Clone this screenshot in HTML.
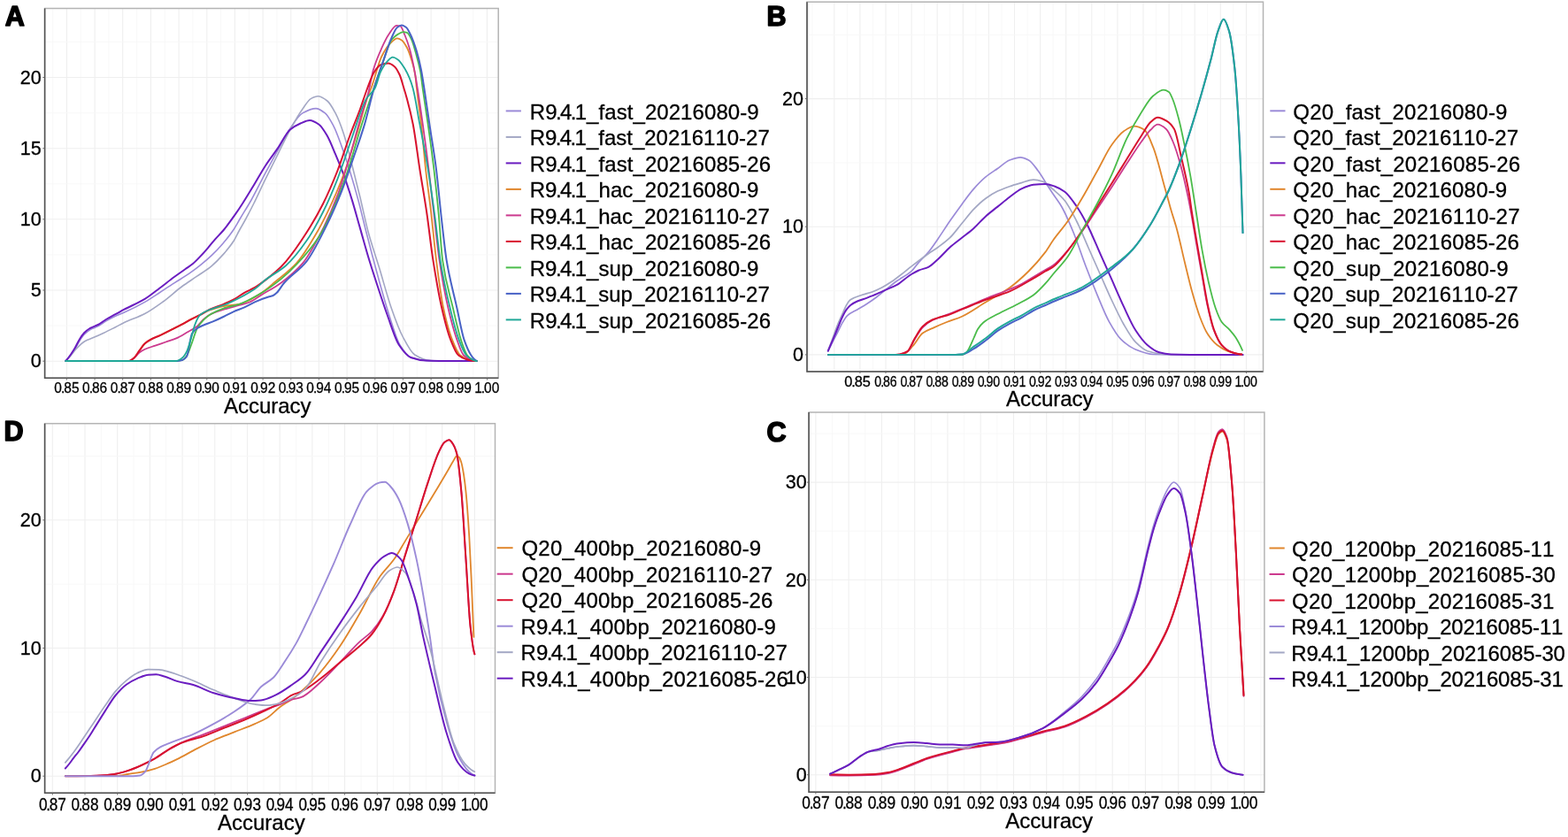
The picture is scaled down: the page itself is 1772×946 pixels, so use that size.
<!DOCTYPE html><html><head><meta charset="utf-8"><title>Accuracy density plots</title><style>html,body{margin:0;padding:0;background:#fff;}svg{display:block;}text{font-family:"Liberation Sans", Arial, Helvetica, sans-serif;fill:#000;stroke:#000;stroke-width:0.3px;}</style></head><body>
<svg width="1772" height="946" viewBox="0 0 1772 946">
<rect width="1772" height="946" fill="#fff"/>
<g>
<rect x="50.6" y="9.5" width="512.6" height="417.8" fill="#fff"/>
<line x1="59.6" y1="9.5" x2="59.6" y2="427.3" stroke="#f7f7f7" stroke-width="0.9"/>
<line x1="75.4" y1="9.5" x2="75.4" y2="427.3" stroke="#efefef" stroke-width="1.1"/>
<line x1="91.2" y1="9.5" x2="91.2" y2="427.3" stroke="#f7f7f7" stroke-width="0.9"/>
<line x1="107.1" y1="9.5" x2="107.1" y2="427.3" stroke="#efefef" stroke-width="1.1"/>
<line x1="122.9" y1="9.5" x2="122.9" y2="427.3" stroke="#f7f7f7" stroke-width="0.9"/>
<line x1="138.7" y1="9.5" x2="138.7" y2="427.3" stroke="#efefef" stroke-width="1.1"/>
<line x1="154.6" y1="9.5" x2="154.6" y2="427.3" stroke="#f7f7f7" stroke-width="0.9"/>
<line x1="170.4" y1="9.5" x2="170.4" y2="427.3" stroke="#efefef" stroke-width="1.1"/>
<line x1="186.2" y1="9.5" x2="186.2" y2="427.3" stroke="#f7f7f7" stroke-width="0.9"/>
<line x1="202.1" y1="9.5" x2="202.1" y2="427.3" stroke="#efefef" stroke-width="1.1"/>
<line x1="217.9" y1="9.5" x2="217.9" y2="427.3" stroke="#f7f7f7" stroke-width="0.9"/>
<line x1="233.8" y1="9.5" x2="233.8" y2="427.3" stroke="#efefef" stroke-width="1.1"/>
<line x1="249.6" y1="9.5" x2="249.6" y2="427.3" stroke="#f7f7f7" stroke-width="0.9"/>
<line x1="265.4" y1="9.5" x2="265.4" y2="427.3" stroke="#efefef" stroke-width="1.1"/>
<line x1="281.3" y1="9.5" x2="281.3" y2="427.3" stroke="#f7f7f7" stroke-width="0.9"/>
<line x1="297.1" y1="9.5" x2="297.1" y2="427.3" stroke="#efefef" stroke-width="1.1"/>
<line x1="312.9" y1="9.5" x2="312.9" y2="427.3" stroke="#f7f7f7" stroke-width="0.9"/>
<line x1="328.8" y1="9.5" x2="328.8" y2="427.3" stroke="#efefef" stroke-width="1.1"/>
<line x1="344.6" y1="9.5" x2="344.6" y2="427.3" stroke="#f7f7f7" stroke-width="0.9"/>
<line x1="360.4" y1="9.5" x2="360.4" y2="427.3" stroke="#efefef" stroke-width="1.1"/>
<line x1="376.3" y1="9.5" x2="376.3" y2="427.3" stroke="#f7f7f7" stroke-width="0.9"/>
<line x1="392.1" y1="9.5" x2="392.1" y2="427.3" stroke="#efefef" stroke-width="1.1"/>
<line x1="407.9" y1="9.5" x2="407.9" y2="427.3" stroke="#f7f7f7" stroke-width="0.9"/>
<line x1="423.8" y1="9.5" x2="423.8" y2="427.3" stroke="#efefef" stroke-width="1.1"/>
<line x1="439.6" y1="9.5" x2="439.6" y2="427.3" stroke="#f7f7f7" stroke-width="0.9"/>
<line x1="455.4" y1="9.5" x2="455.4" y2="427.3" stroke="#efefef" stroke-width="1.1"/>
<line x1="471.3" y1="9.5" x2="471.3" y2="427.3" stroke="#f7f7f7" stroke-width="0.9"/>
<line x1="487.1" y1="9.5" x2="487.1" y2="427.3" stroke="#efefef" stroke-width="1.1"/>
<line x1="502.9" y1="9.5" x2="502.9" y2="427.3" stroke="#f7f7f7" stroke-width="0.9"/>
<line x1="518.8" y1="9.5" x2="518.8" y2="427.3" stroke="#efefef" stroke-width="1.1"/>
<line x1="534.6" y1="9.5" x2="534.6" y2="427.3" stroke="#f7f7f7" stroke-width="0.9"/>
<line x1="550.4" y1="9.5" x2="550.4" y2="427.3" stroke="#efefef" stroke-width="1.1"/>
<line x1="50.6" y1="408.2" x2="563.2" y2="408.2" stroke="#efefef" stroke-width="1.1"/>
<line x1="50.6" y1="368.1" x2="563.2" y2="368.1" stroke="#f7f7f7" stroke-width="0.9"/>
<line x1="50.6" y1="328" x2="563.2" y2="328" stroke="#efefef" stroke-width="1.1"/>
<line x1="50.6" y1="287.9" x2="563.2" y2="287.9" stroke="#f7f7f7" stroke-width="0.9"/>
<line x1="50.6" y1="247.8" x2="563.2" y2="247.8" stroke="#efefef" stroke-width="1.1"/>
<line x1="50.6" y1="207.8" x2="563.2" y2="207.8" stroke="#f7f7f7" stroke-width="0.9"/>
<line x1="50.6" y1="167.7" x2="563.2" y2="167.7" stroke="#efefef" stroke-width="1.1"/>
<line x1="50.6" y1="127.6" x2="563.2" y2="127.6" stroke="#f7f7f7" stroke-width="0.9"/>
<line x1="50.6" y1="87.5" x2="563.2" y2="87.5" stroke="#efefef" stroke-width="1.1"/>
<line x1="50.6" y1="47.4" x2="563.2" y2="47.4" stroke="#f7f7f7" stroke-width="0.9"/>
<path d="M74.3,408 C76.3,406 78.3,403.6 80.3,401 C81.9,399 83.4,396.7 85,394.2 C86.7,391.4 88.5,387.4 90.2,384.8 C92,382.1 93.7,379.6 95.5,377.8 C97.7,375.6 99.8,373.9 102,372.6 C105,370.9 108,370.2 111,368.6 C114.2,366.9 117.5,364.2 120.7,362.3 C124,360.4 127.2,358.7 130.5,357.2 C133.7,355.7 136.8,354.7 140,353.3 C147.9,349.8 155.8,345.9 163.7,341.4 C169.1,338.3 174.6,334.5 180,331 C185.6,327.3 191.3,323.4 196.9,319.8 C202.5,316.2 208.2,313.1 213.8,309.2 C218,306.3 222.3,303.1 226.5,299.7 C230.7,296.3 235,292.7 239.2,288.7 C243.4,284.7 247.7,280.1 251.9,275.2 C255.8,270.6 259.8,265.8 263.7,260 C266.5,255.9 269.2,250.6 272,246 C276,239.3 280,233.1 284,226 C289.3,216.5 294.7,205.3 300,195.3 C304.7,186.6 309.3,178.2 314,169.8 C318.6,161.5 323.3,152.1 327.9,145.3 C332.6,138.5 337.2,130.5 341.9,127.9 C346.9,125.1 352,122.6 357,122.6 C360.5,122.6 363.9,125.2 367.4,127.9 C370.5,130.3 373.6,136.1 376.7,141.9 C379.8,147.7 382.9,156.7 386,165.1 C389.1,173.5 392.2,183 395.3,193 C398.4,203.1 401.6,214 404.7,225.6 C407.8,237.1 410.9,250.7 414,262.8 C418.3,279.7 422.7,296.3 427,312 C431.3,327.7 435.7,343.7 440,357 C444,369.2 448,383.6 452,390 C456.3,396.9 460.7,403.1 465,404.5 C470.7,406.3 476.3,407.4 482,407.6 C488,407.8 494,408 500,408 C512.9,408 525.8,408 538.7,408" fill="none" stroke="#9b8bd8" stroke-width="1.6" stroke-linejoin="round" stroke-linecap="round"/>
<path d="M74.3,408 C75.9,406.5 77.4,404.8 79,403 C80.9,400.8 82.8,398 84.7,395.9 C86.9,393.5 89,391.2 91.2,389.3 C92.7,388 94.3,386.6 95.8,385.7 C98.6,384.1 101.5,383.3 104.3,382.1 C108.7,380.2 113,378.3 117.4,376.2 C121.8,374.1 126.1,371.9 130.5,369.7 C133.7,368.1 136.8,366.3 140,364.8 C147.9,361 155.8,358.7 163.7,354.5 C170.5,350.9 177.4,345.9 184.2,341 C191.3,335.9 198.3,329.2 205.4,324 C211,319.8 216.7,316.3 222.3,312.4 C227.9,308.5 233.6,305.3 239.2,300.6 C243.4,297.1 247.7,292.7 251.9,287.9 C256.1,283.2 260.3,278.4 264.5,271.8 C266.2,269.1 267.9,265.2 269.6,262 C272.4,256.8 275.2,252.2 278,247 C280.9,241.6 283.9,235.9 286.8,230 C291.2,221.2 295.6,211.3 300,202.3 C304.7,192.8 309.3,183.7 314,174.4 C318.6,165.1 323.3,154.9 327.9,146.5 C332.6,138 337.2,129.9 341.9,123.3 C345,118.9 348.1,113.3 351.2,111.6 C353.9,110.2 356.6,108.8 359.3,108.8 C362.8,108.8 366.3,111.4 369.8,114 C372.9,116.3 376,122.1 379.1,127.9 C382.2,133.7 385.3,141.9 388.4,151.2 C391.5,160.5 394.6,174 397.7,186 C400.8,198 403.9,210.5 407,223.3 C410.1,236.1 413.2,251.3 416.3,262.8 C420.5,278.2 424.6,289.6 428.8,303.3 C433.2,317.9 437.7,335 442.1,347.7 C446.5,360.4 451,372.7 455.4,381 C459.8,389.3 464.3,398.3 468.7,401 C474.6,404.6 480.6,407.3 486.5,407.6 C491,407.8 495.5,408 500,408 C512.9,408 525.8,408 538.7,408" fill="none" stroke="#a3a7c4" stroke-width="1.6" stroke-linejoin="round" stroke-linecap="round"/>
<path d="M74.3,408 C76.2,405.8 78.2,403.2 80.1,400.5 C81.6,398.3 83.2,395.9 84.7,393.3 C86.4,390.3 88.2,386.2 89.9,383.4 C91.6,380.6 93.4,378 95.1,376.2 C97.3,374 99.5,372.3 101.7,371 C104.8,369.3 107.8,368.6 110.9,367 C114.2,365.3 117.4,362.4 120.7,360.5 C124,358.6 127.2,357 130.5,355.2 C133.7,353.5 136.8,351.6 140,349.9 C147.9,345.7 155.8,342.7 163.7,337.9 C169.1,334.6 174.6,330.1 180,326 C185.6,321.8 191.3,317.1 196.9,313 C201.1,309.9 205.4,307 209.6,304 C212.4,302 215.2,300.3 218,298 C220.8,295.7 223.7,292.6 226.5,289.6 C229.3,286.7 232.1,283.5 234.9,280.3 C237.7,277 240.6,273.3 243.4,270.1 C246.5,266.6 249.6,263.7 252.7,260 C257,254.9 261.3,248.8 265.6,242.7 C268.4,238.7 271.3,234.4 274.1,230 C278.4,223.3 282.7,216.1 287,209 C291.3,201.8 295.7,193.9 300,187.2 C304.7,180 309.3,174.2 314,167.4 C318.6,160.6 323.3,150.4 327.9,146.5 C331.8,143.2 335.6,141.2 339.5,139.5 C343,138 346.5,136 350,136 C353.5,136 357,138.3 360.5,140.7 C363.6,142.8 366.7,148.2 369.8,153.5 C372.9,158.8 376,167.1 379.1,174.4 C382.2,181.7 385.3,189.2 388.4,197.7 C391.5,206.2 394.6,215.6 397.7,225.6 C400.8,235.6 403.9,247.3 407,258.1 C410.1,268.9 413.2,280.4 416.3,290.7 C419,299.6 421.6,307.8 424.3,316 C428.8,329.8 433.2,343.7 437.7,356 C442.1,368.2 446.6,383.4 451,390 C455.4,396.6 459.9,402.4 464.3,404 C470.2,406.1 476.1,407.4 482,407.6 C488,407.8 494,408 500,408 C512.9,408 525.8,408 538.7,408" fill="none" stroke="#6a1cc0" stroke-width="2.0" stroke-linejoin="round" stroke-linecap="round"/>
<path d="M146.2,408 C148.1,407.4 149.9,405.9 151.8,404.2 C153.8,402.4 155.8,398.6 157.8,395.9 C159.8,393.3 161.7,389.9 163.7,388.2 C166.1,386.1 168.4,384.8 170.8,383.5 C174.3,381.6 177.9,380.5 181.4,378.8 C185.4,376.9 189.3,374.8 193.3,372.8 C197.2,370.8 201.2,369 205.1,366.9 C209.1,364.8 213,362.5 217,360.4 C220.2,358.8 223.3,357.3 226.5,355.7 C230,354 233.6,351.8 237.1,350.5 C242.2,348.6 247.4,346.9 252.5,346 C258.4,345 264.4,344.9 270.3,343.8 C278.2,342.3 286.1,336.9 294,332 C299.9,328.4 305.7,322.9 311.6,318 C319.4,311.6 327.1,306.3 334.9,297.7 C342.6,289.2 350.4,276.1 358.1,262.8 C364.3,252.1 370.5,239.4 376.7,225.6 C381.4,215.2 386,203.7 390.7,190.7 C395.4,177.7 400,161.8 404.7,146.5 C408.6,133.8 412.4,117.3 416.3,107 C417.3,104.3 418.3,102.6 419.3,100 C423.3,89.8 427.2,72 431.2,64 C434.3,57.7 437.4,52.7 440.5,49.6 C443.3,46.8 446.1,43.3 448.9,43.3 C450.6,43.3 452.3,44.3 454,45.4 C456,46.6 457.9,50.1 459.9,53.8 C461.6,57 463.3,61.9 465,67.4 C466.4,71.9 467.8,76 469.2,84.3 C469.8,87.7 470.3,95.1 470.9,100 C472.6,114.9 474.4,125.4 476.1,140.7 C477.8,155.4 479.4,176.5 481.1,191.5 C483.2,210.8 485.4,224.6 487.5,243 C489.3,258.8 491.2,279.4 493,293.8 C495.7,314.8 498.3,335 501,347.7 C504.3,363.4 507.6,375.2 510.9,383.6 C513.9,391.3 517,399.1 520,401.5 C523.3,404.2 526.7,405.6 530,406.5 C532.8,407.2 535.7,407.9 538.5,408" fill="none" stroke="#e0862c" stroke-width="1.8" stroke-linejoin="round" stroke-linecap="round"/>
<path d="M146.5,408 C148.3,407.1 150,405.9 151.8,404.5 C153.8,402.9 155.8,399.8 157.8,398.3 C159.8,396.8 161.7,395.6 163.7,394.7 C167.6,392.9 171.6,392 175.5,390.6 C179.5,389.2 183.4,387.9 187.4,386.5 C191.3,385.1 195.3,384 199.2,382.3 C203.2,380.6 207.1,378.1 211.1,375.8 C215,373.5 219,371.8 222.9,368.7 C225.3,366.8 227.6,363.1 230,361 C232.4,358.9 234.7,356.9 237.1,355.7 C242.2,353 247.4,351.6 252.5,350 C258.4,348.1 264.4,346.7 270.3,345 C274.2,343.9 278.2,343.1 282.1,341.5 C286.7,339.7 291.4,335.8 296,333 C301.2,329.8 306.5,327 311.7,323.7 C314,322.2 316.3,320.7 318.6,319 C326.4,313.1 334.1,306.9 341.9,297.7 C348.9,289.4 355.8,276.2 362.8,262.8 C369,250.9 375.2,237.4 381.4,220.9 C386,208.6 390.7,192.3 395.3,176.7 C399.2,163.6 403.1,148.1 407,134.9 C410.1,124.4 413.2,116.7 416.3,104.7 C418.1,97.6 420,85.5 421.8,79.2 C424.9,68.5 428.1,61.6 431.2,54.7 C434,48.5 436.8,42.6 439.6,38.6 C442.4,34.5 445.3,28.9 448.1,28.9 C449.5,28.9 450.9,29.1 452.3,29.3 C454,29.6 455.7,35.5 457.4,39.5 C459.1,43.5 460.8,48.1 462.5,53.8 C464.2,59.4 465.8,66.8 467.5,75 C468.9,82.1 470.4,91.1 471.8,100 C473.8,112.5 475.8,126.4 477.8,140.7 C480,156.7 482.3,173.5 484.5,191.5 C486.5,207.6 488.5,226 490.5,243 C492.5,260 494.5,280.3 496.5,293.8 C499.8,316.1 503.1,333.3 506.4,347.7 C509.7,362.1 513,374.3 516.3,383.6 C518.9,390.8 521.4,399 524,401.5 C526.7,404.1 529.3,405.6 532,406.5 C534.2,407.2 536.5,407.9 538.7,408" fill="none" stroke="#cc3a8e" stroke-width="1.8" stroke-linejoin="round" stroke-linecap="round"/>
<path d="M146.2,408 C148.1,407.4 149.9,405.9 151.8,404.2 C153.8,402.4 155.8,398.6 157.8,395.9 C159.8,393.3 161.7,389.9 163.7,388.2 C166.1,386.1 168.4,384.8 170.8,383.5 C174.3,381.6 177.9,380.5 181.4,378.8 C185.4,376.9 189.3,374.8 193.3,372.8 C197.2,370.8 201.2,369 205.1,366.9 C209.1,364.8 213,362.5 217,360.4 C220.2,358.8 223.3,357.4 226.5,355.7 C230,353.8 233.6,351.3 237.1,349.7 C242.2,347.3 247.4,345.9 252.5,343.8 C256.4,342.2 260.4,340.6 264.3,338.5 C268.3,336.4 272.2,333 276.2,330.8 C280.1,328.6 284.1,327.2 288,324.9 C292,322.6 295.9,319.6 299.9,316.6 C303.8,313.7 307.8,310.6 311.7,307.1 C315.6,303.6 319.4,299.8 323.3,295.3 C331,286.3 338.8,274.9 346.5,262.8 C352.7,253.1 358.9,242.5 365.1,230.2 C370.5,219.4 376,206.8 381.4,193 C386,181.2 390.7,166 395.3,153.5 C399.2,143 403.1,133.9 407,123.3 C409.7,115.9 412.4,107 415.1,100 C417.6,93.4 420.2,85.7 422.7,81.8 C425.2,77.9 427.8,74.2 430.3,73.3 C433.1,72.3 436,71.6 438.8,71.6 C441,71.6 443.3,73.3 445.5,75 C447.5,76.5 449.5,80.1 451.5,84.3 C453.2,87.8 454.8,94.5 456.5,100 C457.7,103.8 458.8,107.6 460,112 C462.3,120.5 464.5,129 466.8,140.7 C469.3,153.8 471.9,175.2 474.4,191.5 C477,208.3 479.6,222.3 482.2,240 C484.6,256.3 487,278.5 489.4,293.8 C492.7,314.7 495.9,333.4 499.2,347.7 C502.5,362.1 505.8,375.2 509.1,383.6 C512.1,391.3 515.1,399.1 518.1,401.5 C521.4,404.2 524.7,405.7 528,406.5 C531.3,407.3 534.5,408 537.8,408" fill="none" stroke="#d8122e" stroke-width="2.0" stroke-linejoin="round" stroke-linecap="round"/>
<path d="M74.3,408 C115.9,408 157.6,408 199.2,408 C201.5,408 203.7,407.6 206,407 C207.7,406.5 209.4,404.4 211.1,402 C212.7,399.7 214.4,394.2 216,390 C218.3,384.1 220.6,375.1 222.9,371 C225.3,366.8 227.6,364 230,361.6 C232.4,359.2 234.7,357.2 237.1,355.7 C242.2,352.5 247.4,350.4 252.5,348.6 C258.4,346.6 264.4,345.8 270.3,343.8 C278.2,341.1 286.1,336.6 294,332 C301.9,327.4 309.7,321.8 317.6,315.4 C323.4,310.7 329.2,305.2 335,299 C343.5,290 352,280.6 360.5,267.4 C366.7,257.8 372.9,244.5 379.1,230.2 C383.7,219.5 388.4,206.7 393,193 C397.7,179.2 402.3,161.3 407,146.5 C411.3,132.8 415.7,119.9 420,107 C424,95.1 428,82.8 432,72 C435.7,62.1 439.3,49 443,44.5 C445.3,41.7 447.5,39.9 449.8,38.6 C451.8,37.5 453.7,36.1 455.7,36.1 C457.1,36.1 458.5,36.4 459.9,36.9 C461.6,37.5 463.3,41.1 465,44.5 C466.7,47.9 468.4,54.6 470.1,60.6 C471.8,66.5 473.4,71.9 475.1,80.9 C476,85.6 476.8,93.9 477.7,100 C479.7,114.2 481.7,126.4 483.7,140.7 C485.9,156.7 488.2,172.6 490.4,191.5 C492.2,206.8 494,223.9 495.8,243 C497.2,258.2 498.7,283.6 500.1,293.8 C504,321.5 507.9,331.1 511.8,347.7 C514.8,360.5 517.8,374.5 520.8,383.6 C523.2,390.9 525.6,398.5 528,401.5 C530,404 532,405.6 534,406.5 C535.6,407.2 537.1,407.9 538.7,408" fill="none" stroke="#4abc4a" stroke-width="1.8" stroke-linejoin="round" stroke-linecap="round"/>
<path d="M74.3,408 C115.9,408 157.6,408 199.2,408 C201.5,408 203.7,407.6 206,407 C207.7,406.6 209.3,405.2 211,403 C213,400.4 215,380.3 217,377 C219,373.8 220.9,372.3 222.9,371 C225.3,369.4 227.6,368.5 230,367.5 C233.6,365.9 237.1,364.9 240.7,363.4 C244.6,361.8 248.6,359.9 252.5,358 C256.4,356.1 260.4,353.8 264.3,352.1 C268.3,350.3 272.2,349.2 276.2,347.4 C280.1,345.7 284.1,343.1 288,341.4 C293.1,339.1 298.3,337 303.4,335.5 C305,335 306.6,334.9 308.2,334.3 C309.8,333.7 311.3,332.3 312.9,330.8 C315.6,328.3 318.2,323.1 320.9,320 C329.4,310.1 338,306.1 346.5,295.3 C353.5,286.5 360.4,272 367.4,258.1 C373.6,245.8 379.8,231.9 386,216.3 C390.7,204.5 395.3,190.3 400,176.7 C403.9,165.4 407.7,154.8 411.6,141.9 C415.3,129.5 419,112.3 422.7,100 C426.4,87.8 430,78 433.7,67.4 C436.5,59.3 439.3,49.9 442.1,43.7 C444.4,38.6 446.6,32.7 448.9,31 C450.6,29.7 452.3,28.5 454,28.5 C455.7,28.5 457.4,29.7 459.1,31 C460.8,32.3 462.4,36 464.1,39.5 C466.4,44.2 468.6,50.6 470.9,58.1 C472.6,63.8 474.3,70.7 476,79.2 C477.1,84.9 478.3,92.7 479.4,100 C481.4,112.8 483.4,127.2 485.4,140.7 C487.9,157.8 490.5,171.6 493,191.5 C494.8,205.9 496.7,226.8 498.5,243 C500.5,260.9 502.6,281.4 504.6,293.8 C508.5,317.7 512.4,330.1 516.3,347.7 C519,359.9 521.7,375.6 524.4,383.6 C527.1,391.5 529.7,397.4 532.4,401.5 C533.6,403.4 534.8,404.9 536,406 C536.9,406.8 537.8,407.5 538.7,408" fill="none" stroke="#4862c6" stroke-width="2.0" stroke-linejoin="round" stroke-linecap="round"/>
<path d="M74.3,408 C115.9,408 157.6,408 199.2,408 C201.6,408 203.9,406.1 206.3,404.2 C207.9,402.9 209.5,400.3 211.1,397.1 C212.7,394 214.2,388 215.8,382.9 C217.4,377.8 218.9,370.3 220.5,366.3 C222.1,362.2 223.7,358.5 225.3,356.8 C226.9,355.1 228.4,354.2 230,353.3 C239.5,348.2 248.9,346.8 258.4,342.6 C268.3,338.2 278.1,333.4 288,326.6 C292,323.9 296,319.4 300,316.3 C307.8,310.2 315.5,306.9 323.3,300 C331,293.2 338.8,283.2 346.5,272.1 C352.7,263.2 358.9,251.8 365.1,239.5 C370.5,228.7 376,216.1 381.4,202.3 C386.8,188.5 392.3,170.9 397.7,155.8 C403.1,140.7 408.6,120.5 414,111.6 C417.2,106.4 420.3,105.5 423.5,100 C425.8,96.1 428,85.5 430.3,80.9 C432.8,75.8 435.4,71.6 437.9,69.1 C439.9,67.1 441.8,64.7 443.8,64.7 C445.8,64.7 447.8,66.1 449.8,67.4 C452.3,69.1 454.9,73.4 457.4,77.5 C459.1,80.3 460.8,83.6 462.5,87.7 C463.9,91 465.3,94.9 466.7,100 C469.3,109.4 471.8,126.9 474.4,140.7 C477.5,157.3 480.6,172.6 483.7,191.5 C486.3,207.4 488.9,225.6 491.5,245 C493.5,259.9 495.5,281.3 497.5,293.8 C501.2,316.8 504.8,332.5 508.5,347.7 C511.8,361.5 515.2,374.8 518.5,383.6 C521.3,391.1 524.2,398.5 527,401.5 C529.3,404 531.7,405.5 534,406.5 C535.6,407.2 537.1,407.7 538.7,408" fill="none" stroke="#20a898" stroke-width="1.8" stroke-linejoin="round" stroke-linecap="round"/>
<rect x="50.6" y="9.5" width="512.6" height="417.8" fill="none" stroke="#b4b4b4" stroke-width="1.5"/>
<path d="M50.6,9.5 V427.3 H563.2" fill="none" stroke="#505050" stroke-width="1.5"/>
<line x1="75.4" y1="427.3" x2="75.4" y2="429.5" stroke="#666" stroke-width="1"/>
<text transform="translate(75.4,443.8) scale(0.93,1)" x="-15.1 -6.9 -3.3 5.9" y="0" font-size="16.6">0.85</text>
<line x1="107.1" y1="427.3" x2="107.1" y2="429.5" stroke="#666" stroke-width="1"/>
<text transform="translate(107.1,443.8) scale(0.93,1)" x="-15.1 -6.9 -3.3 5.9" y="0" font-size="16.6">0.86</text>
<line x1="138.7" y1="427.3" x2="138.7" y2="429.5" stroke="#666" stroke-width="1"/>
<text transform="translate(138.7,443.8) scale(0.93,1)" x="-15 -6.8 -3.3 6" y="0" font-size="16.6">0.87</text>
<line x1="170.4" y1="427.3" x2="170.4" y2="429.5" stroke="#666" stroke-width="1"/>
<text transform="translate(170.4,443.8) scale(0.93,1)" x="-15.1 -6.9 -3.3 5.9" y="0" font-size="16.6">0.88</text>
<line x1="202.1" y1="427.3" x2="202.1" y2="429.5" stroke="#666" stroke-width="1"/>
<text transform="translate(202.1,443.8) scale(0.93,1)" x="-15 -6.9 -3.3 5.9" y="0" font-size="16.6">0.89</text>
<line x1="233.8" y1="427.3" x2="233.8" y2="429.5" stroke="#666" stroke-width="1"/>
<text transform="translate(233.8,443.8) scale(0.93,1)" x="-15.1 -6.9 -3.4 5.9" y="0" font-size="16.6">0.90</text>
<line x1="265.4" y1="427.3" x2="265.4" y2="429.5" stroke="#666" stroke-width="1"/>
<text transform="translate(265.4,443.8) scale(0.93,1)" x="-15 -6.8 -3.3 5.9" y="0" font-size="16.6">0.91</text>
<line x1="297.1" y1="427.3" x2="297.1" y2="429.5" stroke="#666" stroke-width="1"/>
<text transform="translate(297.1,443.8) scale(0.93,1)" x="-15 -6.8 -3.3 6" y="0" font-size="16.6">0.92</text>
<line x1="328.8" y1="427.3" x2="328.8" y2="429.5" stroke="#666" stroke-width="1"/>
<text transform="translate(328.8,443.8) scale(0.93,1)" x="-15.1 -6.9 -3.3 5.9" y="0" font-size="16.6">0.93</text>
<line x1="360.4" y1="427.3" x2="360.4" y2="429.5" stroke="#666" stroke-width="1"/>
<text transform="translate(360.4,443.8) scale(0.93,1)" x="-15.2 -7 -3.5 5.8" y="0" font-size="16.6">0.94</text>
<line x1="392.1" y1="427.3" x2="392.1" y2="429.5" stroke="#666" stroke-width="1"/>
<text transform="translate(392.1,443.8) scale(0.93,1)" x="-15.1 -6.9 -3.3 5.9" y="0" font-size="16.6">0.95</text>
<line x1="423.8" y1="427.3" x2="423.8" y2="429.5" stroke="#666" stroke-width="1"/>
<text transform="translate(423.8,443.8) scale(0.93,1)" x="-15.1 -6.9 -3.3 5.9" y="0" font-size="16.6">0.96</text>
<line x1="455.4" y1="427.3" x2="455.4" y2="429.5" stroke="#666" stroke-width="1"/>
<text transform="translate(455.4,443.8) scale(0.93,1)" x="-15 -6.8 -3.3 6" y="0" font-size="16.6">0.97</text>
<line x1="487.1" y1="427.3" x2="487.1" y2="429.5" stroke="#666" stroke-width="1"/>
<text transform="translate(487.1,443.8) scale(0.93,1)" x="-15.1 -6.9 -3.3 5.9" y="0" font-size="16.6">0.98</text>
<line x1="518.8" y1="427.3" x2="518.8" y2="429.5" stroke="#666" stroke-width="1"/>
<text transform="translate(518.8,443.8) scale(0.93,1)" x="-15 -6.9 -3.3 5.9" y="0" font-size="16.6">0.99</text>
<line x1="550.5" y1="427.3" x2="550.5" y2="429.5" stroke="#666" stroke-width="1"/>
<text transform="translate(550.5,443.8) scale(0.93,1)" x="-15.4 -7.2 -3.7 5.6" y="0" font-size="16.6">1.00</text>
<line x1="48.4" y1="408.2" x2="50.6" y2="408.2" stroke="#666" stroke-width="1"/>
<text x="46.6" y="415.4" font-size="21.5" text-anchor="end">0</text>
<line x1="48.4" y1="328" x2="50.6" y2="328" stroke="#666" stroke-width="1"/>
<text x="46.6" y="335.2" font-size="21.5" text-anchor="end">5</text>
<line x1="48.4" y1="247.8" x2="50.6" y2="247.8" stroke="#666" stroke-width="1"/>
<text x="46.6" y="255" font-size="21.5" text-anchor="end">10</text>
<line x1="48.4" y1="167.7" x2="50.6" y2="167.7" stroke="#666" stroke-width="1"/>
<text x="46.6" y="174.9" font-size="21.5" text-anchor="end">15</text>
<line x1="48.4" y1="87.5" x2="50.6" y2="87.5" stroke="#666" stroke-width="1"/>
<text x="46.6" y="94.7" font-size="21.5" text-anchor="end">20</text>
<text x="5.8" y="28.6" font-size="30.5" font-weight="bold" style="stroke-width:1.6px;stroke-linejoin:round">A</text>
<text x="252.9" y="466.5" font-size="24">Accuracy</text>
<line x1="571.7" y1="125.4" x2="588.9" y2="125.4" stroke="#9b8bd8" stroke-width="2"/>
<text x="598.7 616.2 627.9 632.9 644.7 649.7 663.1 676.6 683.3 696.7 708.8 715.5 728.9 742.3 755.7 769.1 782.6 796 809.4 822.8 836.3 844.3" y="134.6" font-size="24">R9.4.1_fast_20216080-9</text>
<line x1="571.7" y1="154.9" x2="588.9" y2="154.9" stroke="#a3a7c4" stroke-width="2"/>
<text x="598.7 616.1 627.8 632.8 644.5 649.5 662.9 676.2 682.9 696.2 708.2 714.9 728.3 741.6 755 768.3 781.7 795 808.4 821.8 835.1 843.1 856.5" y="164.1" font-size="24">R9.4.1_fast_20216110-27</text>
<line x1="571.7" y1="184.4" x2="588.9" y2="184.4" stroke="#6a1cc0" stroke-width="2"/>
<text x="598.7 616.2 627.9 632.9 644.7 649.7 663.1 676.6 683.3 696.7 708.8 715.5 728.9 742.3 755.7 769.1 782.6 796 809.4 822.8 836.2 844.3 857.7" y="193.6" font-size="24">R9.4.1_fast_20216085-26</text>
<line x1="571.7" y1="213.9" x2="588.9" y2="213.9" stroke="#e0862c" stroke-width="2"/>
<text x="598.7 616.1 627.9 632.9 644.7 649.7 663.1 676.5 689.9 703.3 715.4 728.8 742.2 755.6 769 782.4 795.8 809.2 822.7 836.1 844.1" y="223.1" font-size="24">R9.4.1_hac_20216080-9</text>
<line x1="571.7" y1="243.4" x2="588.9" y2="243.4" stroke="#cc3a8e" stroke-width="2"/>
<text x="598.7 616.1 627.8 632.8 644.5 649.5 662.9 676.2 689.6 702.9 714.9 728.3 741.6 755 768.3 781.7 795 808.4 821.8 835.1 843.1 856.5" y="252.6" font-size="24">R9.4.1_hac_20216110-27</text>
<line x1="571.7" y1="272.9" x2="588.9" y2="272.9" stroke="#d8122e" stroke-width="2"/>
<text x="598.7 616.2 627.9 632.9 644.7 649.7 663.1 676.6 690 703.4 715.5 728.9 742.3 755.7 769.1 782.6 796 809.4 822.8 836.3 844.3 857.7" y="282.1" font-size="24">R9.4.1_hac_20216085-26</text>
<line x1="571.7" y1="302.4" x2="588.9" y2="302.4" stroke="#4abc4a" stroke-width="2"/>
<text x="598.7 616.1 627.9 632.9 644.7 649.7 663.1 676.5 688.6 702 715.4 728.8 742.2 755.6 769 782.4 795.8 809.2 822.7 836.1 844.1" y="311.6" font-size="24">R9.4.1_sup_20216080-9</text>
<line x1="571.7" y1="331.9" x2="588.9" y2="331.9" stroke="#4862c6" stroke-width="2"/>
<text x="598.7 616.1 627.8 632.8 644.5 649.5 662.9 676.2 688.2 701.6 714.9 728.3 741.6 755 768.3 781.7 795 808.4 821.8 835.1 843.1 856.5" y="341.1" font-size="24">R9.4.1_sup_20216110-27</text>
<line x1="571.7" y1="361.4" x2="588.9" y2="361.4" stroke="#20a898" stroke-width="2"/>
<text x="598.7 616.2 627.9 632.9 644.7 649.7 663.1 676.6 688.6 702 715.5 728.9 742.3 755.7 769.1 782.6 796 809.4 822.8 836.3 844.3 857.7" y="370.6" font-size="24">R9.4.1_sup_20216085-26</text>
</g>
<g>
<rect x="912" y="2.2" width="515.5" height="417.7" fill="#fff"/>
<line x1="913.7" y1="2.2" x2="913.7" y2="419.9" stroke="#efefef" stroke-width="1.1"/>
<line x1="942.8" y1="2.2" x2="942.8" y2="419.9" stroke="#efefef" stroke-width="1.1"/>
<line x1="957.4" y1="2.2" x2="957.4" y2="419.9" stroke="#f7f7f7" stroke-width="0.9"/>
<line x1="971.9" y1="2.2" x2="971.9" y2="419.9" stroke="#efefef" stroke-width="1.1"/>
<line x1="986.4" y1="2.2" x2="986.4" y2="419.9" stroke="#f7f7f7" stroke-width="0.9"/>
<line x1="1001" y1="2.2" x2="1001" y2="419.9" stroke="#efefef" stroke-width="1.1"/>
<line x1="1015.5" y1="2.2" x2="1015.5" y2="419.9" stroke="#f7f7f7" stroke-width="0.9"/>
<line x1="1030.1" y1="2.2" x2="1030.1" y2="419.9" stroke="#efefef" stroke-width="1.1"/>
<line x1="1044.6" y1="2.2" x2="1044.6" y2="419.9" stroke="#f7f7f7" stroke-width="0.9"/>
<line x1="1059.2" y1="2.2" x2="1059.2" y2="419.9" stroke="#efefef" stroke-width="1.1"/>
<line x1="1073.7" y1="2.2" x2="1073.7" y2="419.9" stroke="#f7f7f7" stroke-width="0.9"/>
<line x1="1088.3" y1="2.2" x2="1088.3" y2="419.9" stroke="#efefef" stroke-width="1.1"/>
<line x1="1102.8" y1="2.2" x2="1102.8" y2="419.9" stroke="#f7f7f7" stroke-width="0.9"/>
<line x1="1117.4" y1="2.2" x2="1117.4" y2="419.9" stroke="#efefef" stroke-width="1.1"/>
<line x1="1131.9" y1="2.2" x2="1131.9" y2="419.9" stroke="#f7f7f7" stroke-width="0.9"/>
<line x1="1146.5" y1="2.2" x2="1146.5" y2="419.9" stroke="#efefef" stroke-width="1.1"/>
<line x1="1161" y1="2.2" x2="1161" y2="419.9" stroke="#f7f7f7" stroke-width="0.9"/>
<line x1="1175.6" y1="2.2" x2="1175.6" y2="419.9" stroke="#efefef" stroke-width="1.1"/>
<line x1="1190.1" y1="2.2" x2="1190.1" y2="419.9" stroke="#f7f7f7" stroke-width="0.9"/>
<line x1="1204.7" y1="2.2" x2="1204.7" y2="419.9" stroke="#efefef" stroke-width="1.1"/>
<line x1="1219.2" y1="2.2" x2="1219.2" y2="419.9" stroke="#f7f7f7" stroke-width="0.9"/>
<line x1="1233.8" y1="2.2" x2="1233.8" y2="419.9" stroke="#efefef" stroke-width="1.1"/>
<line x1="1248.3" y1="2.2" x2="1248.3" y2="419.9" stroke="#f7f7f7" stroke-width="0.9"/>
<line x1="1262.9" y1="2.2" x2="1262.9" y2="419.9" stroke="#efefef" stroke-width="1.1"/>
<line x1="1277.4" y1="2.2" x2="1277.4" y2="419.9" stroke="#f7f7f7" stroke-width="0.9"/>
<line x1="1292" y1="2.2" x2="1292" y2="419.9" stroke="#efefef" stroke-width="1.1"/>
<line x1="1306.5" y1="2.2" x2="1306.5" y2="419.9" stroke="#f7f7f7" stroke-width="0.9"/>
<line x1="1321.1" y1="2.2" x2="1321.1" y2="419.9" stroke="#efefef" stroke-width="1.1"/>
<line x1="1335.6" y1="2.2" x2="1335.6" y2="419.9" stroke="#f7f7f7" stroke-width="0.9"/>
<line x1="1350.2" y1="2.2" x2="1350.2" y2="419.9" stroke="#efefef" stroke-width="1.1"/>
<line x1="1364.7" y1="2.2" x2="1364.7" y2="419.9" stroke="#f7f7f7" stroke-width="0.9"/>
<line x1="1379.3" y1="2.2" x2="1379.3" y2="419.9" stroke="#efefef" stroke-width="1.1"/>
<line x1="1393.8" y1="2.2" x2="1393.8" y2="419.9" stroke="#f7f7f7" stroke-width="0.9"/>
<line x1="1408.4" y1="2.2" x2="1408.4" y2="419.9" stroke="#efefef" stroke-width="1.1"/>
<line x1="1422.9" y1="2.2" x2="1422.9" y2="419.9" stroke="#f7f7f7" stroke-width="0.9"/>
<line x1="917.9" y1="2.2" x2="917.9" y2="419.9" stroke="#f7f7f7" stroke-width="0.9"/>
<line x1="912" y1="400.9" x2="1427.5" y2="400.9" stroke="#efefef" stroke-width="1.1"/>
<line x1="912" y1="328.6" x2="1427.5" y2="328.6" stroke="#f7f7f7" stroke-width="0.9"/>
<line x1="912" y1="256.2" x2="1427.5" y2="256.2" stroke="#efefef" stroke-width="1.1"/>
<line x1="912" y1="183.9" x2="1427.5" y2="183.9" stroke="#f7f7f7" stroke-width="0.9"/>
<line x1="912" y1="111.6" x2="1427.5" y2="111.6" stroke="#efefef" stroke-width="1.1"/>
<line x1="912" y1="39.3" x2="1427.5" y2="39.3" stroke="#f7f7f7" stroke-width="0.9"/>
<path d="M935.8,396.6 C937.6,393 939.3,389.5 941.1,386 C942.9,382.4 944.8,379.1 946.6,375.5 C948.5,371.9 950.3,367.5 952.2,364.4 C954,361.4 955.9,358.2 957.7,356.6 C961.4,353.3 965.1,352.1 968.8,349.9 C972.5,347.7 976.2,345.7 979.9,343.3 C983.6,340.9 987.3,338.3 991,335.5 C994.7,332.7 998.4,329.5 1002.1,326.6 C1005.8,323.7 1009.5,320.5 1013.2,317.8 C1018.8,313.8 1024.3,311.6 1029.9,306.7 C1032.7,304.2 1035.6,299.6 1038.4,296.4 C1042.3,292 1046.1,288.7 1050,284 C1053.3,279.9 1056.7,274.8 1060,270 C1064.5,263.5 1069,256.3 1073.5,249.8 C1078,243.3 1082.5,237 1087,230.9 C1091.5,224.8 1096,218.5 1100.5,213.4 C1105,208.3 1109.5,203.6 1114,199.9 C1118.5,196.2 1122.9,193.6 1127.4,190.5 C1131.9,187.3 1136.4,182.7 1140.9,181 C1145,179.5 1149,177.8 1153.1,177.8 C1156.2,177.8 1159.4,179.4 1162.5,181 C1166.1,182.9 1169.7,188.5 1173.3,193.2 C1176.9,197.9 1180.4,204.5 1184,210 C1186.7,214.1 1189.3,218 1192,222 C1194.7,226 1197.3,229.3 1200,234 C1204.4,241.8 1208.9,252.5 1213.3,263.3 C1217.8,274.2 1222.2,288.3 1226.7,300 C1231.1,311.6 1235.6,322.8 1240,333.3 C1244.4,343.8 1248.9,355.3 1253.3,363.3 C1257.8,371.3 1262.2,379 1266.7,383.3 C1272.2,388.7 1277.8,392.8 1283.3,395 C1290,397.7 1296.6,400.3 1303.3,400.5 C1312.2,400.8 1321.1,400.9 1330,400.9 C1354.8,400.9 1379.7,400.9 1404.5,400.9" fill="none" stroke="#9b8bd8" stroke-width="1.7" stroke-linejoin="round" stroke-linecap="round"/>
<path d="M935.8,396.6 C937.6,391.7 939.3,386.8 941.1,382 C942.9,377 944.8,371.5 946.6,367 C948.5,362.4 950.3,358.5 952.2,354.4 C953.6,351.2 955.1,347.4 956.5,345 C958,342.4 959.6,339.9 961.1,338.8 C965.5,335.7 970,334.8 974.4,333.3 C978.1,332 981.8,331.3 985.5,330 C989.2,328.7 992.9,326.9 996.6,325 C1000.3,323.1 1004,320.8 1007.7,318.3 C1011.4,315.8 1015.1,312.9 1018.8,310 C1022.5,307.1 1026.2,304 1029.9,301.1 C1036.3,296.1 1042.8,291.2 1049.2,286.7 C1052.8,284.2 1056.4,282.1 1060,279.5 C1064.5,276.2 1069,273 1073.5,268.7 C1078,264.4 1082.5,257.9 1087,252.5 C1091.5,247.1 1096,240.9 1100.5,236.3 C1105,231.7 1109.5,227.4 1114,224.2 C1118.5,221 1122.9,218.3 1127.4,216.1 C1131.9,213.9 1136.4,212.3 1140.9,210.7 C1145.4,209.1 1149.9,207.9 1154.4,206.6 C1158.9,205.3 1163.4,203.1 1167.9,203.1 C1171.5,203.1 1175.1,204.1 1178.7,205.3 C1182.5,206.5 1186.2,210.8 1190,214 C1194.4,217.8 1198.9,221.2 1203.3,226.7 C1207.8,232.2 1212.2,241.2 1216.7,250 C1221.1,258.7 1225.6,270 1230,280 C1234.4,290 1238.9,300 1243.3,310 C1247.8,320 1252.2,330.5 1256.7,340 C1261.1,349.4 1265.6,359.1 1270,366.7 C1274.4,374.3 1278.9,382.3 1283.3,386.7 C1287.8,391.2 1292.2,395.3 1296.7,396.7 C1303.4,398.8 1310,400.3 1316.7,400.5 C1324.5,400.7 1332.2,400.9 1340,400.9 C1361.5,400.9 1383,400.9 1404.5,400.9" fill="none" stroke="#a3a7c4" stroke-width="1.7" stroke-linejoin="round" stroke-linecap="round"/>
<path d="M935.8,396.6 C937.6,392.6 939.3,388.6 941.1,384.4 C942.9,380.1 944.8,375.4 946.6,371 C948.5,366.5 950.3,361.5 952.2,357.7 C953.7,354.7 955.1,351.9 956.6,349.9 C958.1,347.9 959.6,346.2 961.1,345 C963.7,343 966.2,341.6 968.8,340.5 C972.5,338.9 976.2,338 979.9,336.6 C983.6,335.2 987.3,333.8 991,332.2 C994.7,330.6 998.4,328.9 1002.1,327.2 C1005.8,325.5 1009.5,324.2 1013.2,322.2 C1018.8,319.1 1024.3,313.4 1029.9,310 C1032.7,308.3 1035.6,306.7 1038.4,305.5 C1042,304 1045.6,303.6 1049.2,301.9 C1052.8,300.2 1056.4,296.2 1060,293 C1064.5,288.9 1069,283.5 1073.5,279.5 C1078,275.5 1082.5,272.3 1087,268.7 C1091.5,265.1 1096,261.9 1100.5,257.9 C1105,253.9 1109.5,248.4 1114,244.4 C1118.5,240.4 1122.9,237.2 1127.4,233.6 C1131.9,230 1136.4,226.2 1140.9,222.8 C1145.4,219.4 1149.9,215.5 1154.4,213.4 C1158.9,211.3 1163.4,209.3 1167.9,208.8 C1172.4,208.3 1176.9,208 1181.4,208 C1185,208 1188.6,209.5 1192.2,210.7 C1195.9,212 1199.6,213.9 1203.3,216.7 C1207.8,220 1212.2,226.8 1216.7,233.3 C1221.1,239.7 1225.6,247.9 1230,256.7 C1234.4,265.5 1238.9,276.7 1243.3,286.7 C1247.8,296.7 1252.2,306.7 1256.7,316.7 C1261.1,326.7 1265.6,337.3 1270,346.7 C1274.4,356.1 1278.9,366.5 1283.3,373.3 C1287.8,380.2 1292.2,386.3 1296.7,390 C1301.1,393.7 1305.6,397.1 1310,398.3 C1314.4,399.5 1318.9,400.3 1323.3,400.5 C1330.5,400.8 1337.8,400.9 1345,400.9 C1364.8,400.9 1384.7,400.9 1404.5,400.9" fill="none" stroke="#6a1cc0" stroke-width="2.0" stroke-linejoin="round" stroke-linecap="round"/>
<path d="M936,400.9 C962.7,400.9 989.3,400.9 1016,400.9 C1017.7,400.9 1019.3,400.7 1021,400.5 C1024.6,400 1028.3,394.6 1031.9,390.7 C1035.5,386.9 1039.1,379.2 1042.7,376.6 C1047,373.4 1051.4,372.1 1055.7,370.1 C1060.5,367.9 1065.2,365.9 1070,364 C1075.7,361.7 1081.3,360.3 1087,357.7 C1096,353.6 1105,346.9 1114,341.5 C1123,336.1 1131.9,331.7 1140.9,325.3 C1148.1,320.1 1155.3,313.6 1162.5,306.5 C1168.8,300.3 1175.1,293.3 1181.4,284.9 C1184.3,281.1 1187.1,275.8 1190,271.7 C1195.6,263.8 1201.1,258 1206.7,250 C1212.2,242 1217.8,232.7 1223.3,223.3 C1228.9,213.9 1234.4,203.3 1240,193.3 C1245.6,183.3 1251.1,170.9 1256.7,163.3 C1261.1,157.2 1265.6,151.3 1270,148.3 C1273.9,145.7 1277.8,142.7 1281.7,142.7 C1285.6,142.7 1289.4,144.4 1293.3,146.7 C1296.6,148.7 1300,158.3 1303.3,166.7 C1307.8,177.9 1312.2,197.5 1316.7,213.3 C1318.8,220.7 1320.9,228.7 1323,236 C1325.3,244.1 1327.7,250.6 1330,259.2 C1332.9,269.9 1335.8,283.8 1338.7,295.7 C1341.6,307.6 1344.5,320.3 1347.4,330.6 C1350.3,340.9 1353.2,350.9 1356.1,358.5 C1359,366.1 1361.9,373.2 1364.8,377.6 C1368.3,383 1371.8,387.1 1375.3,389.8 C1379.4,393 1383.4,395.4 1387.5,396.8 C1392.7,398.6 1398,400.3 1403.2,400.5" fill="none" stroke="#e0862c" stroke-width="1.8" stroke-linejoin="round" stroke-linecap="round"/>
<path d="M936,400.9 C961.3,400.9 986.7,400.9 1012,400.9 C1013.6,400.9 1015.1,400.7 1016.7,400.5 C1019.6,400.1 1022.5,399.2 1025.4,397.5 C1028.3,395.9 1031.1,387.5 1034,383 C1036.9,378.4 1039.8,372.9 1042.7,370 C1046.3,366.4 1049.9,363.8 1053.5,362 C1055.7,360.9 1057.8,360.3 1060,359.5 C1069,356 1078,352.7 1087,349 C1096,345.3 1105,341.2 1114,337.5 C1123,333.8 1131.9,330.8 1140.9,327 C1145.4,325.1 1149.9,323.3 1154.4,321 C1158.9,318.7 1163.4,315.7 1167.9,313 C1172.4,310.3 1176.9,307.6 1181.4,305 C1184.3,303.3 1187.1,302.1 1190,300 C1195.6,296 1201.1,289.4 1206.7,283 C1212.2,276.6 1217.8,268.8 1223.3,261 C1228.9,253.2 1234.4,244.3 1240,236 C1245.6,227.7 1251.1,219.5 1256.7,211 C1262.2,202.5 1267.8,193.5 1273.3,185 C1278.9,176.5 1284.4,167.7 1290,160 C1293.3,155.4 1296.7,150.2 1300,147 C1302.8,144.4 1305.5,140.7 1308.3,140.7 C1311.5,140.7 1314.8,143.2 1318,146 C1320.5,148.2 1323,154.2 1325.5,160 C1328.3,166.5 1331.2,175.9 1334,186 C1336.8,196.1 1339.7,208.7 1342.5,222 C1343.7,227.5 1344.8,233.7 1346,240 C1348,250.9 1350,263.5 1352,275 C1354.1,286.9 1356.1,298.4 1358.2,310 C1360.3,321.8 1362.4,335.4 1364.5,345 C1366.9,355.9 1369.2,366.4 1371.6,372.6 C1374.6,380.4 1377.5,386.5 1380.5,389.8 C1384,393.6 1387.5,396.5 1391,397.7 C1395.1,399.1 1399.1,400.5 1403.2,400.5" fill="none" stroke="#cc3a8e" stroke-width="1.8" stroke-linejoin="round" stroke-linecap="round"/>
<path d="M936,400.9 C961.3,400.9 986.7,400.9 1012,400.9 C1013.6,400.9 1015.1,400.7 1016.7,400.5 C1019.6,400.1 1022.5,399 1025.4,397.2 C1028.3,395.4 1031.1,386.6 1034,382 C1036.9,377.3 1039.8,371.8 1042.7,369 C1046.3,365.5 1049.9,363.2 1053.5,361.5 C1055.7,360.5 1057.8,359.8 1060,359.1 C1063.3,358.1 1066.7,357.5 1070,356.5 C1075.7,354.7 1081.3,351.9 1087,349.6 C1096,346 1105,342.2 1114,338.8 C1123,335.5 1131.9,333.2 1140.9,329.4 C1149.9,325.6 1158.9,319.8 1167.9,314.6 C1172.4,312 1176.9,309.1 1181.4,306.5 C1184.3,304.8 1187.1,303.8 1190,301.7 C1195.6,297.7 1201.1,290.2 1206.7,283.3 C1212.2,276.5 1217.8,268.3 1223.3,260 C1228.9,251.7 1234.4,242.2 1240,233.3 C1245.6,224.4 1251.1,215.6 1256.7,206.7 C1262.2,197.8 1267.8,188.9 1273.3,180 C1278.9,171.1 1284.4,161.9 1290,153.3 C1293.3,148.2 1296.7,141.4 1300,138.3 C1302.8,135.8 1305.5,132.7 1308.3,132.7 C1311.6,132.7 1315,134.7 1318.3,136.7 C1321.2,138.4 1324,141 1326.9,145.8 C1329.7,150.5 1332.6,167.5 1335.4,179.6 C1338.2,191.6 1341,202.4 1343.8,218.5 C1344.7,223.9 1345.7,231.9 1346.6,238 C1348.6,251.3 1350.7,262.8 1352.7,274.8 C1354.7,286.6 1356.7,298.2 1358.7,309.7 C1360.7,321.4 1362.8,334.9 1364.8,344.5 C1367.1,355.5 1369.5,366.1 1371.8,372.4 C1374.7,380.2 1377.6,386.6 1380.5,389.8 C1384,393.7 1387.5,396.5 1391,397.7 C1395.1,399.1 1399.1,400.5 1403.2,400.5" fill="none" stroke="#d8122e" stroke-width="2.0" stroke-linejoin="round" stroke-linecap="round"/>
<path d="M936,400.9 C986.7,400.9 1037.3,400.9 1088,400.9 C1089.5,400.9 1090.9,399.5 1092.4,398.2 C1093.6,397.1 1094.8,394.3 1096,392 C1097.5,389.1 1099,385.3 1100.5,382 C1102,378.7 1103.5,374.4 1105,372 C1107.1,368.7 1109.2,366.2 1111.3,364.5 C1116.7,360 1122,357.9 1127.4,355 C1134.6,351.1 1141.8,348 1149,344.2 C1155.3,340.8 1161.6,338 1167.9,333.4 C1173.3,329.5 1178.7,323.4 1184.1,317.3 C1186.1,315.1 1188,312.4 1190,310 C1195.6,303.2 1201.1,298 1206.7,290 C1212.2,282 1217.8,270 1223.3,260 C1228.9,250 1234.4,240.5 1240,230 C1245.6,219.5 1251.1,208.8 1256.7,196.7 C1262.2,184.6 1267.8,168.1 1273.3,156.7 C1278.9,145.2 1284.4,135.4 1290,126.7 C1294.4,119.8 1298.9,111.8 1303.3,108.3 C1307.2,105.2 1311.1,101.7 1315,101.7 C1317,101.7 1319,102.7 1321,104 C1322.4,104.9 1323.8,108.7 1325.2,112 C1327.5,117.3 1329.7,125.4 1332,134 C1334.2,142.4 1336.5,153.6 1338.7,164.4 C1341,175.4 1343.2,186.9 1345.5,199.9 C1347.6,212 1349.7,226.7 1351.8,240 C1354.1,254.6 1356.4,270.8 1358.7,283.6 C1361,296.6 1363.4,308.4 1365.7,318.4 C1368.3,329.7 1371,340.6 1373.6,348 C1375.9,354.5 1378.2,360.5 1380.5,363.7 C1383.4,367.8 1386.3,369.2 1389.2,372.4 C1391.5,375 1393.9,377.6 1396.2,381.1 C1398.8,385 1401.4,390.1 1404,395.9" fill="none" stroke="#4abc4a" stroke-width="1.8" stroke-linejoin="round" stroke-linecap="round"/>
<path d="M936,400.9 C984,400.9 1032,400.9 1080,400.9 C1082.3,400.9 1084.7,400.7 1087,400.5 C1091.5,400.1 1096,396.6 1100.5,394.1 C1105,391.6 1109.5,388.1 1114,384.7 C1118.5,381.4 1122.9,377 1127.4,373.9 C1131.9,370.8 1136.4,368.2 1140.9,365.8 C1145.4,363.4 1149.9,361.5 1154.4,359.1 C1158.9,356.7 1163.4,353.3 1167.9,351 C1172.4,348.7 1176.9,347 1181.4,345 C1184.3,343.7 1187.1,342.2 1190,341 C1193.3,339.6 1196.7,338.4 1200,337 C1207.8,333.8 1215.5,331.1 1223.3,327 C1234.4,321.2 1245.6,312.9 1256.7,304 C1264.5,297.8 1272.2,290.8 1280,282 C1286.7,274.4 1293.3,264.6 1300,254 C1305.6,245.1 1311.1,233.8 1316.7,223.3 C1317.8,221.2 1318.9,219.3 1320,217 C1324.2,208.2 1328.4,197.1 1332.6,185.7 C1336.8,174.4 1340.9,161.3 1345.1,148.1 C1349.3,134.8 1353.5,120.8 1357.7,106.2 C1361.2,94.2 1364.6,81.8 1368.1,68.6 C1370.9,58 1373.7,42.8 1376.5,35.1 C1378.6,29.4 1380.7,21.7 1382.8,21.7 C1384.9,21.7 1386.9,28.4 1389,35.1 C1391.1,41.9 1393.2,57.6 1395.3,76.9 C1396.7,89.8 1398.1,111.4 1399.5,135.5 C1400.5,152.1 1401.4,173.5 1402.4,198.3 C1403.1,216.3 1403.8,238.8 1404.5,263.1" fill="none" stroke="#4862c6" stroke-width="2.0" stroke-linejoin="round" stroke-linecap="round"/>
<path d="M936,400.9 C984,400.9 1032,400.9 1080,400.9 C1082.3,400.9 1084.7,400.7 1087,400.5 C1091.5,400.1 1096,394.6 1100.5,391.6 C1105,388.6 1109.5,385.6 1114,382.2 C1118.5,378.9 1122.9,374.5 1127.4,371.4 C1131.9,368.3 1136.4,365.7 1140.9,363.3 C1145.4,360.9 1149.9,359 1154.4,356.6 C1158.9,354.2 1163.4,350.8 1167.9,348.5 C1172.4,346.2 1176.9,344.5 1181.4,342.5 C1184.3,341.2 1187.1,339.7 1190,338.5 C1193.3,337.1 1196.7,335.9 1200,334.5 C1207.8,331.3 1215.5,328.6 1223.3,324.5 C1234.4,318.7 1245.6,310 1256.7,301.5 C1264.5,295.6 1272.2,290.2 1280,282 C1286.7,275 1293.3,264.6 1300,254 C1305.6,245.1 1311.1,233.8 1316.7,223.3 C1317.8,221.2 1318.9,219.3 1320,217 C1324.2,208.2 1328.4,197.1 1332.6,185.7 C1336.8,174.4 1340.9,161.3 1345.1,148.1 C1349.3,134.8 1353.5,120.8 1357.7,106.2 C1361.2,94.2 1364.6,81.8 1368.1,68.6 C1370.9,58 1373.7,42.8 1376.5,35.1 C1378.6,29.4 1380.7,21.7 1382.8,21.7 C1384.9,21.7 1386.9,28.4 1389,35.1 C1391.1,41.9 1393.2,57.6 1395.3,76.9 C1396.7,89.8 1398.1,111.4 1399.5,135.5 C1400.5,152.1 1401.4,173.5 1402.4,198.3 C1403.1,216.3 1403.8,238.8 1404.5,263.1" fill="none" stroke="#20a898" stroke-width="1.9" stroke-linejoin="round" stroke-linecap="round"/>
<rect x="912" y="2.2" width="515.5" height="417.7" fill="none" stroke="#b4b4b4" stroke-width="1.5"/>
<path d="M912,2.2 V419.9 H1427.5" fill="none" stroke="#505050" stroke-width="1.5"/>
<line x1="971.9" y1="419.9" x2="971.9" y2="422.1" stroke="#666" stroke-width="1"/>
<text transform="translate(969,436.8) scale(0.98,1)" x="-15.1 -6.9 -3.3 5.9" y="0" font-size="16.6">0.85</text>
<line x1="1001" y1="419.9" x2="1001" y2="422.1" stroke="#666" stroke-width="1"/>
<text transform="translate(1001,436.8) scale(0.85,1)" x="-14.9 -6.9 -3.5 5.7" y="0" font-size="16.6">0.86</text>
<line x1="1030.1" y1="419.9" x2="1030.1" y2="422.1" stroke="#666" stroke-width="1"/>
<text transform="translate(1030.1,436.8) scale(0.85,1)" x="-14.8 -6.8 -3.4 5.8" y="0" font-size="16.6">0.87</text>
<line x1="1059.2" y1="419.9" x2="1059.2" y2="422.1" stroke="#666" stroke-width="1"/>
<text transform="translate(1059.2,436.8) scale(0.85,1)" x="-14.9 -6.9 -3.5 5.7" y="0" font-size="16.6">0.88</text>
<line x1="1088.3" y1="419.9" x2="1088.3" y2="422.1" stroke="#666" stroke-width="1"/>
<text transform="translate(1088.3,436.8) scale(0.85,1)" x="-14.9 -6.9 -3.5 5.8" y="0" font-size="16.6">0.89</text>
<line x1="1117.4" y1="419.9" x2="1117.4" y2="422.1" stroke="#666" stroke-width="1"/>
<text transform="translate(1117.4,436.8) scale(0.85,1)" x="-14.9 -6.9 -3.5 5.7" y="0" font-size="16.6">0.90</text>
<line x1="1146.5" y1="419.9" x2="1146.5" y2="422.1" stroke="#666" stroke-width="1"/>
<text transform="translate(1146.5,436.8) scale(0.85,1)" x="-14.8 -6.8 -3.5 5.8" y="0" font-size="16.6">0.91</text>
<line x1="1175.6" y1="419.9" x2="1175.6" y2="422.1" stroke="#666" stroke-width="1"/>
<text transform="translate(1175.6,436.8) scale(0.85,1)" x="-14.8 -6.8 -3.4 5.8" y="0" font-size="16.6">0.92</text>
<line x1="1204.7" y1="419.9" x2="1204.7" y2="422.1" stroke="#666" stroke-width="1"/>
<text transform="translate(1204.7,436.8) scale(0.85,1)" x="-14.9 -6.9 -3.5 5.7" y="0" font-size="16.6">0.93</text>
<line x1="1233.8" y1="419.9" x2="1233.8" y2="422.1" stroke="#666" stroke-width="1"/>
<text transform="translate(1233.8,436.8) scale(0.85,1)" x="-15 -7 -3.6 5.6" y="0" font-size="16.6">0.94</text>
<line x1="1262.9" y1="419.9" x2="1262.9" y2="422.1" stroke="#666" stroke-width="1"/>
<text transform="translate(1262.9,436.8) scale(0.85,1)" x="-14.9 -6.9 -3.5 5.7" y="0" font-size="16.6">0.95</text>
<line x1="1292" y1="419.9" x2="1292" y2="422.1" stroke="#666" stroke-width="1"/>
<text transform="translate(1292,436.8) scale(0.85,1)" x="-14.9 -6.9 -3.5 5.7" y="0" font-size="16.6">0.96</text>
<line x1="1321.1" y1="419.9" x2="1321.1" y2="422.1" stroke="#666" stroke-width="1"/>
<text transform="translate(1321.1,436.8) scale(0.85,1)" x="-14.8 -6.8 -3.4 5.8" y="0" font-size="16.6">0.97</text>
<line x1="1350.2" y1="419.9" x2="1350.2" y2="422.1" stroke="#666" stroke-width="1"/>
<text transform="translate(1350.2,436.8) scale(0.85,1)" x="-14.9 -6.9 -3.5 5.7" y="0" font-size="16.6">0.98</text>
<line x1="1379.3" y1="419.9" x2="1379.3" y2="422.1" stroke="#666" stroke-width="1"/>
<text transform="translate(1379.3,436.8) scale(0.85,1)" x="-14.9 -6.9 -3.5 5.8" y="0" font-size="16.6">0.99</text>
<line x1="1408.4" y1="419.9" x2="1408.4" y2="422.1" stroke="#666" stroke-width="1"/>
<text transform="translate(1408.4,436.8) scale(0.85,1)" x="-15.2 -7.2 -3.8 5.4" y="0" font-size="16.6">1.00</text>
<line x1="909.8" y1="400.9" x2="912" y2="400.9" stroke="#666" stroke-width="1"/>
<text x="908" y="408.1" font-size="21.5" text-anchor="end">0</text>
<line x1="909.8" y1="256.2" x2="912" y2="256.2" stroke="#666" stroke-width="1"/>
<text x="908" y="263.4" font-size="21.5" text-anchor="end">10</text>
<line x1="909.8" y1="111.6" x2="912" y2="111.6" stroke="#666" stroke-width="1"/>
<text x="908" y="118.8" font-size="21.5" text-anchor="end">20</text>
<text x="866.6" y="28.6" font-size="30.5" font-weight="bold" style="stroke-width:1.6px;stroke-linejoin:round">B</text>
<text x="1136.9" y="459.2" font-size="24">Accuracy</text>
<line x1="1435.3" y1="125.3" x2="1452.5" y2="125.3" stroke="#9b8bd8" stroke-width="2"/>
<text x="1461.3 1480.2 1493.7 1507.3 1520.8 1527.6 1541.1 1553.3 1560 1573.6 1587.1 1600.7 1614.2 1627.7 1641.3 1654.8 1668.3 1681.9 1690" y="134.5" font-size="24">Q20_fast_20216080-9</text>
<line x1="1435.3" y1="154.8" x2="1452.5" y2="154.8" stroke="#a3a7c4" stroke-width="2"/>
<text x="1461.3 1480.1 1493.6 1507.1 1520.6 1527.3 1540.8 1553 1559.7 1573.2 1586.7 1600.2 1613.6 1627.1 1640.6 1654.1 1667.6 1681.1 1689.2 1702.7" y="164" font-size="24">Q20_fast_20216110-27</text>
<line x1="1435.3" y1="184.3" x2="1452.5" y2="184.3" stroke="#6a1cc0" stroke-width="2"/>
<text x="1461.3 1480.3 1493.9 1507.5 1521.1 1527.9 1541.5 1553.8 1560.6 1574.2 1587.8 1601.4 1615 1628.6 1642.2 1655.8 1669.4 1683 1691.2 1704.8" y="193.5" font-size="24">Q20_fast_20216085-26</text>
<line x1="1435.3" y1="213.8" x2="1452.5" y2="213.8" stroke="#e0862c" stroke-width="2"/>
<text x="1461.3 1480.2 1493.7 1507.2 1520.8 1534.3 1547.8 1560 1573.5 1587 1600.5 1614.1 1627.6 1641.1 1654.6 1668.2 1681.7 1689.8" y="223" font-size="24">Q20_hac_20216080-9</text>
<line x1="1435.3" y1="243.3" x2="1452.5" y2="243.3" stroke="#cc3a8e" stroke-width="2"/>
<text x="1461.3 1480.2 1493.8 1507.4 1521 1534.5 1548.1 1560.3 1573.9 1587.5 1601 1614.6 1628.2 1641.7 1655.3 1668.9 1682.5 1690.6 1704.2" y="252.5" font-size="24">Q20_hac_20216110-27</text>
<line x1="1435.3" y1="272.8" x2="1452.5" y2="272.8" stroke="#d8122e" stroke-width="2"/>
<text x="1461.3 1480.2 1493.7 1507.2 1520.8 1534.3 1547.8 1560 1573.5 1587.1 1600.6 1614.1 1627.7 1641.2 1654.7 1668.2 1681.8 1689.9 1703.4" y="282" font-size="24">Q20_hac_20216085-26</text>
<line x1="1435.3" y1="302.3" x2="1452.5" y2="302.3" stroke="#4abc4a" stroke-width="2"/>
<text x="1461.3 1480.3 1493.9 1507.5 1521.1 1533.4 1547 1560.6 1574.2 1587.8 1601.5 1615.1 1628.7 1642.3 1655.9 1669.5 1683.1 1691.3" y="311.5" font-size="24">Q20_sup_20216080-9</text>
<line x1="1435.3" y1="331.8" x2="1452.5" y2="331.8" stroke="#4862c6" stroke-width="2"/>
<text x="1461.3 1480.1 1493.5 1507 1520.5 1532.6 1546 1559.5 1573 1586.4 1599.9 1613.3 1626.8 1640.3 1653.7 1667.2 1680.6 1688.7 1702.2" y="341" font-size="24">Q20_sup_20216110-27</text>
<line x1="1435.3" y1="361.3" x2="1452.5" y2="361.3" stroke="#20a898" stroke-width="2"/>
<text x="1461.3 1480.2 1493.7 1507.2 1520.8 1532.9 1546.5 1560 1573.5 1587.1 1600.6 1614.1 1627.7 1641.2 1654.7 1668.2 1681.8 1689.9 1703.4" y="370.5" font-size="24">Q20_sup_20216085-26</text>
</g>
<g>
<rect x="50.6" y="478.7" width="508.9" height="417.6" fill="#fff"/>
<line x1="59.3" y1="478.7" x2="59.3" y2="896.3" stroke="#efefef" stroke-width="1.1"/>
<line x1="77.7" y1="478.7" x2="77.7" y2="896.3" stroke="#f7f7f7" stroke-width="0.9"/>
<line x1="96" y1="478.7" x2="96" y2="896.3" stroke="#efefef" stroke-width="1.1"/>
<line x1="114.3" y1="478.7" x2="114.3" y2="896.3" stroke="#f7f7f7" stroke-width="0.9"/>
<line x1="132.7" y1="478.7" x2="132.7" y2="896.3" stroke="#efefef" stroke-width="1.1"/>
<line x1="151" y1="478.7" x2="151" y2="896.3" stroke="#f7f7f7" stroke-width="0.9"/>
<line x1="169.4" y1="478.7" x2="169.4" y2="896.3" stroke="#efefef" stroke-width="1.1"/>
<line x1="187.7" y1="478.7" x2="187.7" y2="896.3" stroke="#f7f7f7" stroke-width="0.9"/>
<line x1="206.1" y1="478.7" x2="206.1" y2="896.3" stroke="#efefef" stroke-width="1.1"/>
<line x1="224.4" y1="478.7" x2="224.4" y2="896.3" stroke="#f7f7f7" stroke-width="0.9"/>
<line x1="242.8" y1="478.7" x2="242.8" y2="896.3" stroke="#efefef" stroke-width="1.1"/>
<line x1="261.1" y1="478.7" x2="261.1" y2="896.3" stroke="#f7f7f7" stroke-width="0.9"/>
<line x1="279.5" y1="478.7" x2="279.5" y2="896.3" stroke="#efefef" stroke-width="1.1"/>
<line x1="297.9" y1="478.7" x2="297.9" y2="896.3" stroke="#f7f7f7" stroke-width="0.9"/>
<line x1="316.2" y1="478.7" x2="316.2" y2="896.3" stroke="#efefef" stroke-width="1.1"/>
<line x1="334.6" y1="478.7" x2="334.6" y2="896.3" stroke="#f7f7f7" stroke-width="0.9"/>
<line x1="352.9" y1="478.7" x2="352.9" y2="896.3" stroke="#efefef" stroke-width="1.1"/>
<line x1="371.3" y1="478.7" x2="371.3" y2="896.3" stroke="#f7f7f7" stroke-width="0.9"/>
<line x1="389.6" y1="478.7" x2="389.6" y2="896.3" stroke="#efefef" stroke-width="1.1"/>
<line x1="408" y1="478.7" x2="408" y2="896.3" stroke="#f7f7f7" stroke-width="0.9"/>
<line x1="426.3" y1="478.7" x2="426.3" y2="896.3" stroke="#efefef" stroke-width="1.1"/>
<line x1="444.7" y1="478.7" x2="444.7" y2="896.3" stroke="#f7f7f7" stroke-width="0.9"/>
<line x1="463" y1="478.7" x2="463" y2="896.3" stroke="#efefef" stroke-width="1.1"/>
<line x1="481.4" y1="478.7" x2="481.4" y2="896.3" stroke="#f7f7f7" stroke-width="0.9"/>
<line x1="499.7" y1="478.7" x2="499.7" y2="896.3" stroke="#efefef" stroke-width="1.1"/>
<line x1="518.1" y1="478.7" x2="518.1" y2="896.3" stroke="#f7f7f7" stroke-width="0.9"/>
<line x1="536.4" y1="478.7" x2="536.4" y2="896.3" stroke="#efefef" stroke-width="1.1"/>
<line x1="554.8" y1="478.7" x2="554.8" y2="896.3" stroke="#f7f7f7" stroke-width="0.9"/>
<line x1="50.6" y1="877.2" x2="559.5" y2="877.2" stroke="#efefef" stroke-width="1.1"/>
<line x1="50.6" y1="804.9" x2="559.5" y2="804.9" stroke="#f7f7f7" stroke-width="0.9"/>
<line x1="50.6" y1="732.5" x2="559.5" y2="732.5" stroke="#efefef" stroke-width="1.1"/>
<line x1="50.6" y1="660.2" x2="559.5" y2="660.2" stroke="#f7f7f7" stroke-width="0.9"/>
<line x1="50.6" y1="587.8" x2="559.5" y2="587.8" stroke="#efefef" stroke-width="1.1"/>
<line x1="50.6" y1="515.5" x2="559.5" y2="515.5" stroke="#f7f7f7" stroke-width="0.9"/>
<path d="M73.8,877.2 C92.5,877.2 111.3,877.2 130,877 C134.8,877 139.5,875.7 144.3,875 C149.4,874.2 154.6,873.6 159.7,872.6 C164.8,871.6 169.9,870.4 175,868.8 C180.1,867.2 185.2,864.9 190.3,862.7 C193.5,861.3 196.8,859.7 200,858.1 C206.1,855.1 212.2,851.6 218.3,848.4 C226,844.4 233.8,840.1 241.5,836.7 C249.3,833.2 257,830.5 264.8,827.4 C272.5,824.3 280.3,821.5 288,818.1 C292.7,816 297.3,814.1 302,811.2 C306.6,808.3 311.3,802.9 315.9,799.5 C320.6,796 325.2,793.6 329.9,790.2 C333.3,787.7 336.6,784.9 340,781.9 C347.4,775.3 354.8,768.1 362.2,759.6 C369.6,751.1 377,740.9 384.4,730 C391.8,719 399.3,706 406.7,693 C414.1,680.1 421.5,662.9 428.9,652.2 C434.4,644.2 439.9,639.8 445.4,632.1 C449.6,626.2 453.8,618.3 458,611.4 C462.2,604.4 466.5,597.4 470.7,590.5 C474.9,583.6 479.2,576.8 483.4,569.8 C487.6,562.8 491.9,555.8 496.1,548.7 C499.4,543.2 502.7,537.7 506,532 C508,528.6 510,524.6 512,521.5 C513.4,519.3 514.9,515.5 516.3,515.5 C517.2,515.5 518.1,516.2 519,517 C519.8,517.7 520.6,520.4 521.4,523.1 C522.3,526 523.1,530.7 524,536 C524.8,541.1 525.7,547.8 526.5,556 C527.8,568.5 529,586.1 530.3,606.8 C531.1,620.4 532,639.2 532.8,657.5 C533.7,676.5 534.5,697.5 535.4,719.9" fill="none" stroke="#e0862c" stroke-width="1.8" stroke-linejoin="round" stroke-linecap="round"/>
<path d="M73.8,877.2 C82.5,877.2 91.3,877.1 100,877 C104.6,876.9 109.1,876.7 113.7,876.5 C118.8,876.2 123.9,875.7 129,875 C134.1,874.3 139.2,872.7 144.3,871.1 C149.4,869.5 154.6,867.3 159.7,865 C164.8,862.7 169.9,860.2 175,857.3 C180.1,854.4 185.2,850.3 190.3,847.3 C193.5,845.4 196.8,843.7 200,842 C202.2,840.8 204.4,839.6 206.6,838.7 C214.4,835.3 222.1,833.1 229.9,830.1 C237.6,827.1 245.4,823.9 253.1,820.8 C260.9,817.7 268.6,814.6 276.4,811.5 C284.2,808.4 291.9,804.9 299.7,802 C305.1,800 310.5,798.4 315.9,796.4 C320.6,794.6 325.2,791.9 329.9,790.6 C333.3,789.6 336.6,789.4 340,788.2 C347.4,785.8 354.8,777.5 362.2,771 C369.6,764.4 377,756 384.4,748.4 C391.8,740.7 399.3,732 406.7,725.1 C411.1,721 415.6,718.5 420,713.9 C424.2,709.4 428.5,703.6 432.7,696.3 C436.9,689.1 441.2,678.8 445.4,667.6 C449.6,656.4 453.8,640.6 458,627.1 C462.2,613.5 466.5,600 470.7,586.5 C474.9,573 479.2,558.5 483.4,545.9 C487.6,533.3 491.9,519.1 496.1,510.4 C498.1,506.2 500.2,501.6 502.2,500 C504,498.6 505.7,497.2 507.5,497.2 C509,497.2 510.5,499.7 512,502 C513.4,504.2 514.9,507.5 516.3,513 C518,519.6 519.7,537.8 521.4,556.1 C523.1,574.4 524.8,606.8 526.5,632.1 C528.2,657.4 529.9,692.9 531.6,708.2 C533.2,722.6 534.8,735.5 536.4,739.3" fill="none" stroke="#cc3a8e" stroke-width="1.8" stroke-linejoin="round" stroke-linecap="round"/>
<path d="M73.8,877.2 C82.5,877.2 91.3,877.1 100,877 C104.6,876.9 109.1,876.7 113.7,876.5 C118.8,876.2 123.9,875.7 129,875 C134.1,874.3 139.2,872.7 144.3,871.1 C149.4,869.5 154.6,867.3 159.7,865 C164.8,862.7 169.9,860.2 175,857.3 C180.1,854.4 185.2,850.3 190.3,847.3 C193.5,845.4 196.8,843.6 200,842 C202.2,840.9 204.4,839.9 206.6,839.1 C214.4,836.2 222.1,834.8 229.9,832.1 C237.6,829.4 245.4,825.9 253.1,822.8 C260.9,819.7 268.6,816.8 276.4,813.5 C284.2,810.2 291.9,806.7 299.7,803 C305.1,800.4 310.5,798 315.9,794.9 C320.6,792.2 325.2,787.8 329.9,785.6 C333.3,784 336.6,783.4 340,781.9 C347.4,778.5 354.8,772.5 362.2,767 C369.6,761.5 377,754.7 384.4,748.5 C391.8,742.3 399.3,736.7 406.7,730 C411.1,726 415.6,722.4 420,717 C424.2,711.9 428.5,704.9 432.7,697 C436.9,689.1 441.2,679 445.4,667.6 C449.6,656.3 453.8,640.6 458,627.1 C462.2,613.5 466.5,600 470.7,586.5 C474.9,573 479.2,558.5 483.4,545.9 C487.6,533.3 491.9,519.1 496.1,510.4 C498.1,506.2 500.2,501.6 502.2,500 C504,498.6 505.7,497.2 507.5,497.2 C509,497.2 510.5,499.7 512,502 C513.4,504.2 514.9,507.5 516.3,513 C518,519.6 519.7,537.8 521.4,556.1 C523.1,574.4 524.8,606.8 526.5,632.1 C528.2,657.4 529.9,692.9 531.6,708.2 C533.2,722.6 534.8,735.5 536.4,739.3" fill="none" stroke="#d8122e" stroke-width="2.0" stroke-linejoin="round" stroke-linecap="round"/>
<path d="M73.8,877.2 C99.2,877.2 124.6,877.2 150,877.2 C152.7,877.2 155.4,876.9 158.1,876.5 C160.2,876.2 162.2,874.3 164.3,871.9 C165.8,870.1 167.4,864.7 168.9,861.1 C170.4,857.5 172,852.3 173.5,850.4 C176,847.3 178.6,845.7 181.1,844.3 C184.2,842.6 187.2,841.6 190.3,840.4 C193.5,839.1 196.8,837.8 200,836.6 C206.1,834.3 212.2,832.4 218.3,829.8 C226,826.5 233.8,822.3 241.5,818.1 C249.3,813.9 257,809.4 264.8,804.2 C271,800.1 277.2,796 283.4,790.2 C287.3,786.6 291.1,779.9 295,776.3 C299.7,772 304.3,770.4 309,765.8 C313.6,761.2 318.3,753 322.9,746 C326.8,740.2 330.6,734.3 334.5,727.4 C338,721.2 341.5,713.7 345,706.5 C349.5,697.3 354,687.8 358.5,678.1 C364.7,664.9 370.8,651.5 377,637.4 C383.2,623.2 389.4,606.5 395.6,593 C401.8,579.6 407.9,563.2 414.1,555.9 C416.1,553.6 418,552 420,550.5 C421.7,549.1 423.5,547.7 425.2,546.9 C427.1,546 429.1,545.2 431,545 C432.4,544.8 433.8,544.7 435.2,544.7 C437.1,544.7 439.1,547.5 441,549.5 C444.1,552.8 447.3,557.6 450.4,563.7 C453.8,570.3 457.2,580.5 460.6,591.6 C464,602.6 467.3,616.6 470.7,632.1 C473.2,643.8 475.8,658.1 478.3,672.7 C480.8,687.3 483.4,703.1 485.9,719.9 C487.7,732 489.6,748.5 491.4,758.6 C495.7,782.4 500,799.1 504.3,814.3 C508.6,829.5 512.9,844.3 517.2,852.9 C521.5,861.5 525.7,868.4 530,872.2 C532.1,874.1 534.3,875.7 536.4,876.5" fill="none" stroke="#9b8bd8" stroke-width="1.9" stroke-linejoin="round" stroke-linecap="round"/>
<path d="M73.8,861.9 C76.9,858.3 79.9,854.5 83,850.4 C86.6,845.7 90.1,840.3 93.7,835.1 C97.8,829.1 101.9,822.8 106,816.7 C110.1,810.6 114.2,804.2 118.3,798.3 C122.4,792.5 126.4,786.1 130.5,781.4 C134.6,776.6 138.7,772.4 142.8,769.1 C146.9,765.8 151,762.5 155.1,760.7 C159.2,758.9 163.2,756.6 167.3,756.6 C171.4,756.6 175.5,756.7 179.6,756.9 C183.7,757.1 187.8,758.5 191.9,759.6 C194.6,760.3 197.3,761.3 200,762.2 C206.1,764.3 212.2,766.8 218.3,769.3 C226,772.5 233.8,776.5 241.5,779.8 C249.3,783.1 257,786.5 264.8,789.1 C272.5,791.7 280.3,795 288,796 C292.7,796.6 297.3,797.2 302,797.2 C306.6,797.2 311.3,796 315.9,794.9 C320.6,793.8 325.2,791.5 329.9,789.1 C334.9,786.5 340,783.6 345,778.6 C350.7,772.9 356.5,757.8 362.2,748.5 C369.6,736.5 377,725.6 384.4,715.2 C391.8,704.7 399.3,695 406.7,685.6 C412.9,677.8 419,670.8 425.2,663.3 C430.1,657.3 435.1,648.1 440,645 C443.1,643.1 446.1,641 449.2,641 C452.1,641 455.1,644.1 458,647.3 C461.4,651 464.8,662.5 468.2,672.7 C470.7,680.3 473.3,692.2 475.8,700.6 C477.9,707.6 480,713.1 482.1,719.9 C483.8,725.3 485.4,730.9 487.1,737.2 C491.4,753.5 495.7,775.9 500,792.9 C504.3,809.9 508.6,829.5 512.9,840 C517.2,850.4 521.4,858.9 525.7,863.6 C529.3,867.5 532.8,871 536.4,872.2" fill="none" stroke="#a3a7c4" stroke-width="1.7" stroke-linejoin="round" stroke-linecap="round"/>
<path d="M73.8,868.5 C75.4,866.8 76.9,865 78.5,863 C80,861.1 81.5,858.8 83,856.8 C84.8,854.4 86.7,852.4 88.5,850 C90.2,847.7 92,845.1 93.7,842.6 C95.8,839.6 97.9,836.7 100,833.5 C102,830.5 104,827.2 106,824 C110.1,817.5 114.2,810.8 118.3,804.4 C122.4,798.1 126.4,790.9 130.5,786 C134.6,781.1 138.7,776.6 142.8,773.7 C146.9,770.8 151,768.5 155.1,766.8 C159.2,765.1 163.2,763.1 167.3,762.7 C170.4,762.4 173.4,762.2 176.5,762.2 C179.6,762.2 182.6,763.6 185.7,764.5 C190.5,765.9 195.2,768.5 200,769.9 C206.1,771.6 212.2,772.3 218.3,774 C226,776.2 233.8,780.9 241.5,783.3 C249.3,785.7 257,787.6 264.8,789.1 C271,790.3 277.2,792.1 283.4,792.1 C287.3,792.1 291.1,791.8 295,791.4 C300.4,790.9 305.9,788 311.3,785.6 C317.5,782.8 323.7,778.3 329.9,774 C334.9,770.5 340,767.3 345,762.3 C350.7,756.6 356.5,745.8 362.2,737.4 C369.6,726.5 377,715.6 384.4,704.1 C390.6,694.5 396.8,684.9 403,674.4 C409.2,664 415.3,648.7 421.5,641.1 C425.8,635.8 430.1,631.1 434.4,628.6 C437.2,627 440,625 442.8,625 C446.2,625 449.6,628.4 453,632.1 C456.4,635.8 459.7,647.8 463.1,657.5 C465.6,664.8 468.2,672.8 470.7,682.8 C473.2,692.8 475.8,708.3 478.3,719.9 C482.7,739.9 487,757.7 491.4,775.7 C495.7,793.4 500,813.5 504.3,827.2 C508.6,840.9 512.9,855.3 517.2,861.5 C521.5,867.7 525.7,872.2 530,874.3 C532.1,875.3 534.3,876.2 536.4,876.5" fill="none" stroke="#6a1cc0" stroke-width="2.0" stroke-linejoin="round" stroke-linecap="round"/>
<rect x="50.6" y="478.7" width="508.9" height="417.6" fill="none" stroke="#b4b4b4" stroke-width="1.5"/>
<path d="M50.6,478.7 V896.3 H559.5" fill="none" stroke="#505050" stroke-width="1.5"/>
<line x1="59.3" y1="896.3" x2="59.3" y2="898.5" stroke="#666" stroke-width="1"/>
<text transform="translate(59.3,915.8) scale(0.85,1)" x="-18.1 -8.3 -4.2 7" y="0" font-size="20.2">0.87</text>
<line x1="96" y1="896.3" x2="96" y2="898.5" stroke="#666" stroke-width="1"/>
<text transform="translate(96,915.8) scale(0.85,1)" x="-18.1 -8.4 -4.3 7" y="0" font-size="20.2">0.88</text>
<line x1="132.7" y1="896.3" x2="132.7" y2="898.5" stroke="#666" stroke-width="1"/>
<text transform="translate(132.7,915.8) scale(0.85,1)" x="-18.1 -8.3 -4.2 7" y="0" font-size="20.2">0.89</text>
<line x1="169.4" y1="896.3" x2="169.4" y2="898.5" stroke="#666" stroke-width="1"/>
<text transform="translate(169.4,915.8) scale(0.85,1)" x="-18.2 -8.4 -4.3 6.9" y="0" font-size="20.2">0.90</text>
<line x1="206.1" y1="896.3" x2="206.1" y2="898.5" stroke="#666" stroke-width="1"/>
<text transform="translate(206.1,915.8) scale(0.85,1)" x="-18.1 -8.3 -4.2 7" y="0" font-size="20.2">0.91</text>
<line x1="242.8" y1="896.3" x2="242.8" y2="898.5" stroke="#666" stroke-width="1"/>
<text transform="translate(242.8,915.8) scale(0.85,1)" x="-18.1 -8.3 -4.2 7" y="0" font-size="20.2">0.92</text>
<line x1="279.5" y1="896.3" x2="279.5" y2="898.5" stroke="#666" stroke-width="1"/>
<text transform="translate(279.5,915.8) scale(0.85,1)" x="-18.1 -8.4 -4.3 7" y="0" font-size="20.2">0.93</text>
<line x1="316.2" y1="896.3" x2="316.2" y2="898.5" stroke="#666" stroke-width="1"/>
<text transform="translate(316.2,915.8) scale(0.85,1)" x="-18.3 -8.5 -4.4 6.8" y="0" font-size="20.2">0.94</text>
<line x1="352.9" y1="896.3" x2="352.9" y2="898.5" stroke="#666" stroke-width="1"/>
<text transform="translate(352.9,915.8) scale(0.85,1)" x="-18.1 -8.4 -4.3 7" y="0" font-size="20.2">0.95</text>
<line x1="389.6" y1="896.3" x2="389.6" y2="898.5" stroke="#666" stroke-width="1"/>
<text transform="translate(389.6,915.8) scale(0.85,1)" x="-18.1 -8.4 -4.3 7" y="0" font-size="20.2">0.96</text>
<line x1="426.3" y1="896.3" x2="426.3" y2="898.5" stroke="#666" stroke-width="1"/>
<text transform="translate(426.3,915.8) scale(0.85,1)" x="-18.1 -8.3 -4.2 7" y="0" font-size="20.2">0.97</text>
<line x1="463" y1="896.3" x2="463" y2="898.5" stroke="#666" stroke-width="1"/>
<text transform="translate(463,915.8) scale(0.85,1)" x="-18.1 -8.4 -4.3 7" y="0" font-size="20.2">0.98</text>
<line x1="499.7" y1="896.3" x2="499.7" y2="898.5" stroke="#666" stroke-width="1"/>
<text transform="translate(499.7,915.8) scale(0.85,1)" x="-18.1 -8.3 -4.2 7" y="0" font-size="20.2">0.99</text>
<line x1="536.4" y1="896.3" x2="536.4" y2="898.5" stroke="#666" stroke-width="1"/>
<text transform="translate(536.4,915.8) scale(0.85,1)" x="-18.5 -8.8 -4.7 6.6" y="0" font-size="20.2">1.00</text>
<line x1="48.4" y1="877.2" x2="50.6" y2="877.2" stroke="#666" stroke-width="1"/>
<text x="46.7" y="884.4" font-size="21.5" text-anchor="end">0</text>
<line x1="48.4" y1="732.5" x2="50.6" y2="732.5" stroke="#666" stroke-width="1"/>
<text x="46.7" y="739.7" font-size="21.5" text-anchor="end">10</text>
<line x1="48.4" y1="587.8" x2="50.6" y2="587.8" stroke="#666" stroke-width="1"/>
<text x="46.7" y="595" font-size="21.5" text-anchor="end">20</text>
<text x="4.4" y="498.2" font-size="30.5" font-weight="bold" style="stroke-width:1.6px;stroke-linejoin:round">D</text>
<text x="246" y="938.3" font-size="24">Accuracy</text>
<line x1="561.7" y1="619.2" x2="579.6" y2="619.2" stroke="#e0862c" stroke-width="2"/>
<text x="589.4 608.3 621.9 635.4 649 662.5 676.1 689.6 703.2 716.7 730.3 743.8 757.4 770.9 784.5 798 811.6 825.1 838.7 846.8" y="628.4" font-size="24">Q20_400bp_20216080-9</text>
<line x1="561.7" y1="648.7" x2="579.6" y2="648.7" stroke="#cc3a8e" stroke-width="2"/>
<text x="589.4 608.3 621.8 635.3 648.8 662.3 675.9 689.4 702.9 716.4 729.9 743.4 756.9 770.5 784 797.5 811 824.5 838 846.1 859.7" y="657.9" font-size="24">Q20_400bp_20216110-27</text>
<line x1="561.7" y1="678.2" x2="579.6" y2="678.2" stroke="#d8122e" stroke-width="2"/>
<text x="589.4 608.3 621.8 635.4 648.9 662.4 676 689.5 703 716.6 730.1 743.6 757.2 770.7 784.2 797.8 811.3 824.8 838.4 846.5 860" y="687.4" font-size="24">Q20_400bp_20216085-26</text>
<line x1="561.7" y1="707.7" x2="579.6" y2="707.7" stroke="#9b8bd8" stroke-width="2"/>
<text x="588.5 606 617.9 622.9 634.7 639.7 653.2 666.7 680.1 693.6 707.1 720.6 734 747.5 761 774.5 787.9 801.4 814.9 828.4 841.8 855.3 863.4" y="716.9" font-size="24">R9.4.1_400bp_20216080-9</text>
<line x1="561.7" y1="737.2" x2="579.6" y2="737.2" stroke="#a3a7c4" stroke-width="2"/>
<text x="588.5 606 617.8 622.8 634.6 639.6 653.1 666.5 680 693.4 706.9 720.3 733.8 747.2 760.7 774.1 787.6 801 814.5 827.9 841.4 854.9 862.9 876.4" y="746.4" font-size="24">R9.4.1_400bp_20216110-27</text>
<line x1="561.7" y1="766.7" x2="579.6" y2="766.7" stroke="#6a1cc0" stroke-width="2"/>
<text x="588.5 606.1 617.9 622.9 634.8 639.8 653.3 666.8 680.4 693.9 707.4 720.9 734.4 747.9 761.4 774.9 788.4 802 815.5 829 842.5 856 864.1 877.6" y="775.9" font-size="24">R9.4.1_400bp_20216085-26</text>
</g>
<g>
<rect x="914.1" y="466" width="514.8" height="429.2" fill="#fff"/>
<line x1="921.9" y1="466" x2="921.9" y2="895.2" stroke="#efefef" stroke-width="1.1"/>
<line x1="940.5" y1="466" x2="940.5" y2="895.2" stroke="#f7f7f7" stroke-width="0.9"/>
<line x1="959.1" y1="466" x2="959.1" y2="895.2" stroke="#efefef" stroke-width="1.1"/>
<line x1="977.8" y1="466" x2="977.8" y2="895.2" stroke="#f7f7f7" stroke-width="0.9"/>
<line x1="996.4" y1="466" x2="996.4" y2="895.2" stroke="#efefef" stroke-width="1.1"/>
<line x1="1015" y1="466" x2="1015" y2="895.2" stroke="#f7f7f7" stroke-width="0.9"/>
<line x1="1033.7" y1="466" x2="1033.7" y2="895.2" stroke="#efefef" stroke-width="1.1"/>
<line x1="1052.3" y1="466" x2="1052.3" y2="895.2" stroke="#f7f7f7" stroke-width="0.9"/>
<line x1="1070.9" y1="466" x2="1070.9" y2="895.2" stroke="#efefef" stroke-width="1.1"/>
<line x1="1089.5" y1="466" x2="1089.5" y2="895.2" stroke="#f7f7f7" stroke-width="0.9"/>
<line x1="1108.2" y1="466" x2="1108.2" y2="895.2" stroke="#efefef" stroke-width="1.1"/>
<line x1="1126.8" y1="466" x2="1126.8" y2="895.2" stroke="#f7f7f7" stroke-width="0.9"/>
<line x1="1145.4" y1="466" x2="1145.4" y2="895.2" stroke="#efefef" stroke-width="1.1"/>
<line x1="1164" y1="466" x2="1164" y2="895.2" stroke="#f7f7f7" stroke-width="0.9"/>
<line x1="1182.7" y1="466" x2="1182.7" y2="895.2" stroke="#efefef" stroke-width="1.1"/>
<line x1="1201.3" y1="466" x2="1201.3" y2="895.2" stroke="#f7f7f7" stroke-width="0.9"/>
<line x1="1219.9" y1="466" x2="1219.9" y2="895.2" stroke="#efefef" stroke-width="1.1"/>
<line x1="1238.5" y1="466" x2="1238.5" y2="895.2" stroke="#f7f7f7" stroke-width="0.9"/>
<line x1="1257.2" y1="466" x2="1257.2" y2="895.2" stroke="#efefef" stroke-width="1.1"/>
<line x1="1275.8" y1="466" x2="1275.8" y2="895.2" stroke="#f7f7f7" stroke-width="0.9"/>
<line x1="1294.4" y1="466" x2="1294.4" y2="895.2" stroke="#efefef" stroke-width="1.1"/>
<line x1="1313" y1="466" x2="1313" y2="895.2" stroke="#f7f7f7" stroke-width="0.9"/>
<line x1="1331.7" y1="466" x2="1331.7" y2="895.2" stroke="#efefef" stroke-width="1.1"/>
<line x1="1350.3" y1="466" x2="1350.3" y2="895.2" stroke="#f7f7f7" stroke-width="0.9"/>
<line x1="1368.9" y1="466" x2="1368.9" y2="895.2" stroke="#efefef" stroke-width="1.1"/>
<line x1="1387.5" y1="466" x2="1387.5" y2="895.2" stroke="#f7f7f7" stroke-width="0.9"/>
<line x1="1406.2" y1="466" x2="1406.2" y2="895.2" stroke="#efefef" stroke-width="1.1"/>
<line x1="1424.8" y1="466" x2="1424.8" y2="895.2" stroke="#f7f7f7" stroke-width="0.9"/>
<line x1="914.1" y1="875.7" x2="1428.9" y2="875.7" stroke="#efefef" stroke-width="1.1"/>
<line x1="914.1" y1="820.6" x2="1428.9" y2="820.6" stroke="#f7f7f7" stroke-width="0.9"/>
<line x1="914.1" y1="765.5" x2="1428.9" y2="765.5" stroke="#efefef" stroke-width="1.1"/>
<line x1="914.1" y1="710.4" x2="1428.9" y2="710.4" stroke="#f7f7f7" stroke-width="0.9"/>
<line x1="914.1" y1="655.3" x2="1428.9" y2="655.3" stroke="#efefef" stroke-width="1.1"/>
<line x1="914.1" y1="600.2" x2="1428.9" y2="600.2" stroke="#f7f7f7" stroke-width="0.9"/>
<line x1="914.1" y1="545.1" x2="1428.9" y2="545.1" stroke="#efefef" stroke-width="1.1"/>
<line x1="914.1" y1="490" x2="1428.9" y2="490" stroke="#f7f7f7" stroke-width="0.9"/>
<path d="M938.1,875.8 C945.2,876.1 952.2,876.2 959.3,876.2 C969.1,876.2 978.9,875.9 988.7,875.4 C993.6,875.2 998.5,874.5 1003.4,873.6 C1008.3,872.8 1013.1,870.9 1018,869.2 C1022.9,867.5 1027.8,865.2 1032.7,863.3 C1037.6,861.4 1042.5,859.2 1047.4,857.5 C1052.3,855.8 1057.2,854.4 1062.1,853.1 C1067,851.8 1071.8,850.6 1076.7,849.4 C1081.6,848.2 1086.5,846.6 1091.4,845.7 C1096.3,844.8 1101.2,844.2 1106.1,843.5 C1111,842.8 1115.9,842 1120.8,841.3 C1125.7,840.6 1130.5,840 1135.4,839.1 C1140.3,838.2 1145.2,836.7 1150.1,835.4 C1155,834.1 1159.9,832.7 1164.8,831.3 C1169.4,830 1174,828.5 1178.6,827.3 C1186.7,825.1 1194.9,823.8 1203,821.2 C1211.1,818.6 1219.2,814.4 1227.3,810.2 C1235.4,806 1243.5,801.1 1251.6,795.6 C1259.7,790 1267.9,783.8 1276,776.2 C1282.5,770.1 1288.9,763.1 1295.4,754.3 C1300.3,747.7 1305.1,739 1310,730 C1313.3,723.8 1316.7,717.5 1320,709.5 C1324.2,699.5 1328.3,686.5 1332.5,672.5 C1337.1,657 1341.7,637.9 1346.3,618.5 C1350.7,599.9 1355.1,577.9 1359.5,558.2 C1363.1,542 1366.8,523.2 1370.4,510.5 C1372.6,502.8 1374.8,493 1377,490.7 C1378.5,489.1 1379.9,487.7 1381.4,487.7 C1383.2,487.7 1384.9,492 1386.7,497.3 C1388.6,503 1390.5,526.5 1392.4,549.4 C1393.9,567 1395.3,596.8 1396.8,624 C1398.2,650.5 1399.7,685.2 1401.1,711.7 C1402.6,738.9 1404,764 1405.5,786.3" fill="none" stroke="#e0862c" stroke-width="1.8" stroke-linejoin="round" stroke-linecap="round"/>
<path d="M938.1,876.3 C945.2,876.6 952.2,876.7 959.3,876.7 C969.1,876.7 978.9,876.4 988.7,875.9 C993.6,875.7 998.5,875 1003.4,874.1 C1008.3,873.3 1013.1,871.4 1018,869.7 C1022.9,868 1027.8,865.7 1032.7,863.8 C1037.6,861.9 1042.5,859.7 1047.4,858 C1052.3,856.3 1057.2,854.9 1062.1,853.6 C1067,852.3 1071.8,851.1 1076.7,849.9 C1081.6,848.7 1086.5,847.1 1091.4,846.2 C1096.3,845.3 1101.2,844.7 1106.1,844 C1111,843.3 1115.9,842.5 1120.8,841.8 C1125.7,841.1 1130.5,840.5 1135.4,839.6 C1140.3,838.7 1145.2,837.2 1150.1,835.9 C1155,834.6 1159.9,833.2 1164.8,831.8 C1169.4,830.5 1174,829 1178.6,827.8 C1186.7,825.6 1194.9,824.3 1203,821.7 C1211.1,819.1 1219.2,814.9 1227.3,810.7 C1235.4,806.5 1243.5,801.6 1251.6,796.1 C1259.7,790.5 1267.9,784.3 1276,776.7 C1282.5,770.6 1288.9,763.6 1295.4,754.8 C1300.3,748.2 1305.1,739.5 1310,730.5 C1313.3,724.3 1316.7,718 1320,710 C1324.2,700 1328.3,687 1332.5,673 C1337.1,657.5 1341.7,638.4 1346.3,619 C1350.7,600.4 1355.1,579 1359.5,558.7 C1363.1,541.9 1366.8,521 1370.4,508 C1372.6,500.1 1374.8,490.5 1377,488.2 C1378.5,486.6 1379.9,485.2 1381.4,485.2 C1383.2,485.2 1384.9,489.5 1386.7,494.8 C1388.6,500.5 1390.5,526.2 1392.4,549.9 C1393.9,568.2 1395.3,597.3 1396.8,624.5 C1398.2,651 1399.7,685.7 1401.1,712.2 C1402.6,739.4 1404,764.5 1405.5,786.8" fill="none" stroke="#cc3a8e" stroke-width="1.8" stroke-linejoin="round" stroke-linecap="round"/>
<path d="M938.1,875.3 C945.2,875.6 952.2,875.7 959.3,875.7 C969.1,875.7 978.9,875.4 988.7,874.9 C993.6,874.7 998.5,874 1003.4,873.1 C1008.3,872.3 1013.1,870.4 1018,868.7 C1022.9,867 1027.8,864.7 1032.7,862.8 C1037.6,860.9 1042.5,858.7 1047.4,857 C1052.3,855.3 1057.2,853.9 1062.1,852.6 C1067,851.3 1071.8,850.1 1076.7,848.9 C1081.6,847.7 1086.5,846.1 1091.4,845.2 C1096.3,844.3 1101.2,843.7 1106.1,843 C1111,842.3 1115.9,841.5 1120.8,840.8 C1125.7,840.1 1130.5,839.5 1135.4,838.6 C1140.3,837.7 1145.2,836.2 1150.1,834.9 C1155,833.6 1159.9,832.2 1164.8,830.8 C1169.4,829.5 1174,828 1178.6,826.8 C1186.7,824.6 1194.9,823.3 1203,820.7 C1211.1,818.1 1219.2,813.9 1227.3,809.7 C1235.4,805.5 1243.5,800.6 1251.6,795.1 C1259.7,789.5 1267.9,783.3 1276,775.7 C1282.5,769.6 1288.9,762.6 1295.4,753.8 C1300.3,747.2 1305.1,738.5 1310,729.5 C1313.3,723.3 1316.7,717 1320,709 C1324.2,699 1328.3,686 1332.5,672 C1337.1,656.5 1341.7,637.4 1346.3,618 C1350.7,599.4 1355.1,577.5 1359.5,557.7 C1363.1,541.4 1366.8,522.3 1370.4,509.5 C1372.6,501.8 1374.8,492 1377,489.7 C1378.5,488.1 1379.9,486.7 1381.4,486.7 C1383.2,486.7 1384.9,491 1386.7,496.3 C1388.6,502 1390.5,525.9 1392.4,548.9 C1393.9,566.7 1395.3,596.3 1396.8,623.5 C1398.2,650 1399.7,684.7 1401.1,711.2 C1402.6,738.4 1404,763.5 1405.5,785.8" fill="none" stroke="#d8122e" stroke-width="2.0" stroke-linejoin="round" stroke-linecap="round"/>
<path d="M938.1,874.6 C941.3,873.2 944.4,871.7 947.6,870.2 C951.5,868.3 955.4,866.6 959.3,864.3 C963.2,861.9 967.2,858 971.1,855.5 C974.5,853.3 978,850.3 981.4,849.6 C985.3,848.7 989.2,848.7 993.1,848.1 C996.5,847.5 1000,846.5 1003.4,845.8 C1006.8,845.2 1010.2,844.4 1013.6,844 C1020,843.3 1026.3,842.6 1032.7,842.6 C1037.6,842.6 1042.5,843.2 1047.4,843.6 C1052.3,844 1057.2,845 1062.1,845 C1067,845 1071.8,845 1076.7,845 C1081.6,845 1086.5,845.5 1091.4,845.5 C1093.8,845.5 1096.3,844 1098.7,843.3 C1103.6,841.8 1108.5,839.6 1113.4,839.3 C1118.3,839 1123.2,839.1 1128.1,838.8 C1136.8,838.3 1145.6,835.4 1154.3,832.8 C1162.4,830.4 1170.5,827.3 1178.6,823.1 C1186.7,818.8 1194.9,811.2 1203,804.6 C1209.5,799.3 1215.9,794.1 1222.4,787.5 C1228.1,781.6 1233.8,774.8 1239.5,766.8 C1243.5,761.2 1247.6,754 1251.6,747 C1255.7,740 1259.7,733.1 1263.8,724.7 C1267.9,716.3 1271.9,706.3 1276,695.5 C1279.2,686.9 1282.5,677.8 1285.7,666.6 C1289.7,652.7 1293.8,631.8 1297.8,615.9 C1299.9,607.8 1301.9,599.5 1304,592.7 C1306,586.3 1307.9,580.5 1309.9,575.3 C1313.1,567 1316.2,558.1 1319.4,553.2 C1321.7,549.6 1324.1,545 1326.4,545 C1328.8,545 1331.1,548 1333.5,551.6 C1335.6,554.8 1337.6,566.7 1339.7,577.4 C1341.9,588.9 1344.1,606.5 1346.3,623.5 C1348.5,640.5 1350.7,660.8 1352.9,680.5 C1355.1,700.2 1357.3,722.2 1359.5,741.9 C1361.7,761.6 1363.9,782.2 1366.1,798.9 C1368.3,815.3 1370.4,834.2 1372.6,842.8 C1375.5,854.5 1378.5,863.9 1381.4,866.9 C1385.1,870.6 1388.7,872.5 1392.4,873.5 C1396.5,874.6 1400.5,875.7 1404.6,875.7" fill="none" stroke="#9b8bd8" stroke-width="1.6" stroke-linejoin="round" stroke-linecap="round"/>
<path d="M938.1,874.6 C941.3,873.2 944.4,871.7 947.6,870.2 C951.5,868.3 955.4,866.6 959.3,864.3 C963.2,861.9 967.2,858 971.1,855.5 C974.5,853.3 978,850.3 981.4,849.6 C985.3,848.7 989.2,848.7 993.1,848.1 C996.5,847.5 1000,846.5 1003.4,845.8 C1006.8,845.2 1010.2,844.4 1013.6,844 C1020,843.3 1026.3,842.6 1032.7,842.6 C1037.6,842.6 1042.5,843.2 1047.4,843.6 C1052.3,844 1057.2,845 1062.1,845 C1067,845 1071.8,845 1076.7,845 C1081.6,845 1086.5,845.5 1091.4,845.5 C1093.8,845.5 1096.3,844 1098.7,843.3 C1103.6,841.8 1108.5,839.6 1113.4,839.3 C1118.3,839 1123.2,839.1 1128.1,838.8 C1136.8,838.3 1145.6,835.4 1154.3,832.8 C1162.4,830.4 1170.5,827.2 1178.6,823.1 C1186.7,819 1194.9,812.2 1203,806.1 C1209.5,801.2 1215.9,796.5 1222.4,790.3 C1228.1,784.9 1233.8,778.5 1239.5,770.8 C1243.5,765.4 1247.6,758.2 1251.6,751.4 C1255.7,744.5 1259.7,737.8 1263.8,729.5 C1267.9,721.2 1271.9,711.2 1276,700.3 C1279.2,691.6 1282.5,682.4 1285.7,671.1 C1289.7,657 1293.8,635.8 1297.8,620 C1299.9,611.9 1301.9,603.7 1304,597 C1306,590.6 1307.9,585 1309.9,580 C1313.1,572 1316.2,563.3 1319.4,559 C1321.7,555.8 1324.1,552 1326.4,552 C1328.8,552 1331.1,554.5 1333.5,557.6 C1335.6,560.3 1337.6,570.1 1339.7,579.6 C1341.9,589.7 1344.1,607 1346.3,623.5 C1348.5,640 1350.7,660.8 1352.9,680.5 C1355.1,700.2 1357.3,722.2 1359.5,741.9 C1361.7,761.6 1363.9,782.2 1366.1,798.9 C1368.3,815.3 1370.4,834.2 1372.6,842.8 C1375.5,854.5 1378.5,863.9 1381.4,866.9 C1385.1,870.6 1388.7,872.5 1392.4,873.5 C1396.5,874.6 1400.5,875.7 1404.6,875.7" fill="none" stroke="#a3a7c4" stroke-width="1.6" stroke-linejoin="round" stroke-linecap="round"/>
<path d="M938.1,874.6 C941.3,873.2 944.4,871.7 947.6,870.2 C951.5,868.3 955.4,866.6 959.3,864.3 C963.2,861.9 967.2,858 971.1,855.5 C974.5,853.3 978,850.8 981.4,849.6 C985.3,848.2 989.2,847.8 993.1,846.7 C996.5,845.7 1000,844 1003.4,843 C1006.8,842 1010.2,840.9 1013.6,840.5 C1020,839.7 1026.3,839.1 1032.7,839.1 C1037.6,839.1 1042.5,839.7 1047.4,840.1 C1052.3,840.5 1057.2,841.5 1062.1,841.5 C1067,841.5 1071.8,841.5 1076.7,841.5 C1081.6,841.5 1086.5,842.3 1091.4,842.3 C1093.8,842.3 1096.3,841.8 1098.7,841.5 C1103.6,840.9 1108.5,839.6 1113.4,839.3 C1118.3,839 1123.2,839.1 1128.1,838.8 C1136.8,838.3 1145.6,835.4 1154.3,832.8 C1162.4,830.4 1170.5,827.2 1178.6,823.1 C1186.7,819 1194.9,812.2 1203,806.1 C1209.5,801.2 1215.9,796.5 1222.4,790.3 C1228.1,784.9 1233.8,778.5 1239.5,770.8 C1243.5,765.4 1247.6,758.2 1251.6,751.4 C1255.7,744.5 1259.7,737.8 1263.8,729.5 C1267.9,721.2 1271.9,711.2 1276,700.3 C1279.2,691.6 1282.5,682.4 1285.7,671.1 C1289.7,657 1293.8,635.8 1297.8,620 C1299.9,611.9 1301.9,603.7 1304,597 C1306,590.6 1307.9,585 1309.9,580 C1313.1,572 1316.2,563.3 1319.4,559 C1321.7,555.8 1324.1,552 1326.4,552 C1328.8,552 1331.1,554.5 1333.5,557.6 C1335.6,560.3 1337.6,570.1 1339.7,579.6 C1341.9,589.7 1344.1,607 1346.3,623.5 C1348.5,640 1350.7,660.8 1352.9,680.5 C1355.1,700.2 1357.3,722.2 1359.5,741.9 C1361.7,761.6 1363.9,782.2 1366.1,798.9 C1368.3,815.3 1370.4,834.2 1372.6,842.8 C1375.5,854.5 1378.5,863.9 1381.4,866.9 C1385.1,870.6 1388.7,872.5 1392.4,873.5 C1396.5,874.6 1400.5,875.7 1404.6,875.7" fill="none" stroke="#6a1cc0" stroke-width="2.0" stroke-linejoin="round" stroke-linecap="round"/>
<rect x="914.1" y="466" width="514.8" height="429.2" fill="none" stroke="#b4b4b4" stroke-width="1.5"/>
<path d="M914.1,466 V895.2 H1428.9" fill="none" stroke="#505050" stroke-width="1.5"/>
<line x1="921.9" y1="895.2" x2="921.9" y2="897.4" stroke="#666" stroke-width="1"/>
<text transform="translate(921.9,914.4) scale(0.86,1)" x="-18.1 -8.3 -4.2 7" y="0" font-size="20.2">0.87</text>
<line x1="959.1" y1="895.2" x2="959.1" y2="897.4" stroke="#666" stroke-width="1"/>
<text transform="translate(959.1,914.4) scale(0.86,1)" x="-18.1 -8.4 -4.3 7" y="0" font-size="20.2">0.88</text>
<line x1="996.4" y1="895.2" x2="996.4" y2="897.4" stroke="#666" stroke-width="1"/>
<text transform="translate(996.4,914.4) scale(0.86,1)" x="-18.1 -8.3 -4.2 7" y="0" font-size="20.2">0.89</text>
<line x1="1033.7" y1="895.2" x2="1033.7" y2="897.4" stroke="#666" stroke-width="1"/>
<text transform="translate(1033.7,914.4) scale(0.86,1)" x="-18.2 -8.4 -4.3 6.9" y="0" font-size="20.2">0.90</text>
<line x1="1070.9" y1="895.2" x2="1070.9" y2="897.4" stroke="#666" stroke-width="1"/>
<text transform="translate(1070.9,914.4) scale(0.86,1)" x="-18.1 -8.3 -4.2 7" y="0" font-size="20.2">0.91</text>
<line x1="1108.2" y1="895.2" x2="1108.2" y2="897.4" stroke="#666" stroke-width="1"/>
<text transform="translate(1108.2,914.4) scale(0.86,1)" x="-18.1 -8.3 -4.2 7" y="0" font-size="20.2">0.92</text>
<line x1="1145.4" y1="895.2" x2="1145.4" y2="897.4" stroke="#666" stroke-width="1"/>
<text transform="translate(1145.4,914.4) scale(0.86,1)" x="-18.1 -8.4 -4.3 7" y="0" font-size="20.2">0.93</text>
<line x1="1182.7" y1="895.2" x2="1182.7" y2="897.4" stroke="#666" stroke-width="1"/>
<text transform="translate(1182.7,914.4) scale(0.86,1)" x="-18.3 -8.5 -4.4 6.8" y="0" font-size="20.2">0.94</text>
<line x1="1219.9" y1="895.2" x2="1219.9" y2="897.4" stroke="#666" stroke-width="1"/>
<text transform="translate(1219.9,914.4) scale(0.86,1)" x="-18.1 -8.4 -4.3 7" y="0" font-size="20.2">0.95</text>
<line x1="1257.2" y1="895.2" x2="1257.2" y2="897.4" stroke="#666" stroke-width="1"/>
<text transform="translate(1257.2,914.4) scale(0.86,1)" x="-18.1 -8.4 -4.3 7" y="0" font-size="20.2">0.96</text>
<line x1="1294.4" y1="895.2" x2="1294.4" y2="897.4" stroke="#666" stroke-width="1"/>
<text transform="translate(1294.4,914.4) scale(0.86,1)" x="-18.1 -8.3 -4.2 7" y="0" font-size="20.2">0.97</text>
<line x1="1331.7" y1="895.2" x2="1331.7" y2="897.4" stroke="#666" stroke-width="1"/>
<text transform="translate(1331.7,914.4) scale(0.86,1)" x="-18.1 -8.4 -4.3 7" y="0" font-size="20.2">0.98</text>
<line x1="1368.9" y1="895.2" x2="1368.9" y2="897.4" stroke="#666" stroke-width="1"/>
<text transform="translate(1368.9,914.4) scale(0.86,1)" x="-18.1 -8.3 -4.2 7" y="0" font-size="20.2">0.99</text>
<line x1="1406.2" y1="895.2" x2="1406.2" y2="897.4" stroke="#666" stroke-width="1"/>
<text transform="translate(1406.2,914.4) scale(0.86,1)" x="-18.5 -8.8 -4.7 6.6" y="0" font-size="20.2">1.00</text>
<line x1="911.9" y1="875.7" x2="914.1" y2="875.7" stroke="#666" stroke-width="1"/>
<text x="911.7" y="882.9" font-size="21.5" text-anchor="end">0</text>
<line x1="911.9" y1="765.5" x2="914.1" y2="765.5" stroke="#666" stroke-width="1"/>
<text x="911.7" y="772.7" font-size="21.5" text-anchor="end">10</text>
<line x1="911.9" y1="655.3" x2="914.1" y2="655.3" stroke="#666" stroke-width="1"/>
<text x="911.7" y="662.5" font-size="21.5" text-anchor="end">20</text>
<line x1="911.9" y1="545.1" x2="914.1" y2="545.1" stroke="#666" stroke-width="1"/>
<text x="911.7" y="552.3" font-size="21.5" text-anchor="end">30</text>
<text x="866.6" y="499" font-size="30.5" font-weight="bold" style="stroke-width:1.6px;stroke-linejoin:round">C</text>
<text x="1136.3" y="936.3" font-size="24">Accuracy</text>
<line x1="1434.5" y1="619.5" x2="1451.7" y2="619.5" stroke="#e0862c" stroke-width="2"/>
<text x="1460.1 1478.9 1492.4 1505.9 1519.4 1532.8 1546.3 1559.8 1573.3 1586.8 1600.2 1613.7 1627.2 1640.7 1654.2 1667.6 1681.1 1694.6 1708.1 1721.6 1729.6 1743.1" y="628.7" font-size="24">Q20_1200bp_20216085-11</text>
<line x1="1434.5" y1="649" x2="1451.7" y2="649" stroke="#cc3a8e" stroke-width="2"/>
<text x="1460.1 1479 1492.6 1506.1 1519.7 1533.2 1546.8 1560.3 1573.9 1587.4 1601 1614.5 1628.1 1641.6 1655.2 1668.7 1682.3 1695.8 1709.4 1722.9 1731 1744.6" y="658.2" font-size="24">Q20_1200bp_20216085-30</text>
<line x1="1434.5" y1="678.5" x2="1451.7" y2="678.5" stroke="#d8122e" stroke-width="2"/>
<text x="1460.1 1478.9 1492.4 1505.9 1519.4 1532.8 1546.3 1559.8 1573.3 1586.8 1600.2 1613.7 1627.2 1640.7 1654.2 1667.6 1681.1 1694.6 1708.1 1721.6 1729.6 1743.1" y="687.7" font-size="24">Q20_1200bp_20216085-31</text>
<line x1="1434.5" y1="708" x2="1451.7" y2="708" stroke="#9b8bd8" stroke-width="2"/>
<text x="1459.2 1476.3 1487.7 1492.7 1504.2 1509.2 1522.3 1535.4 1548.5 1561.6 1574.7 1587.9 1601 1614.1 1627.2 1640.3 1653.4 1666.5 1679.6 1692.7 1705.8 1719 1732.1 1739.9 1753" y="717.2" font-size="24">R9.4.1_1200bp_20216085-11</text>
<line x1="1434.5" y1="737.5" x2="1451.7" y2="737.5" stroke="#a3a7c4" stroke-width="2"/>
<text x="1459.2 1476.4 1488 1493 1504.6 1509.6 1522.8 1536 1549.3 1562.5 1575.7 1588.9 1602.2 1615.4 1628.6 1641.9 1655.1 1668.3 1681.5 1694.8 1708 1721.2 1734.4 1742.4 1755.6" y="746.7" font-size="24">R9.4.1_1200bp_20216085-30</text>
<line x1="1434.5" y1="767" x2="1451.7" y2="767" stroke="#6a1cc0" stroke-width="2"/>
<text x="1459.2 1476.3 1487.8 1492.8 1504.2 1509.3 1522.4 1535.5 1548.6 1561.8 1574.9 1588 1601.2 1614.3 1627.4 1640.5 1653.7 1666.8 1679.9 1693.1 1706.2 1719.3 1732.4 1740.3 1753.4" y="776.2" font-size="24">R9.4.1_1200bp_20216085-31</text>
</g>
</svg></body></html>
